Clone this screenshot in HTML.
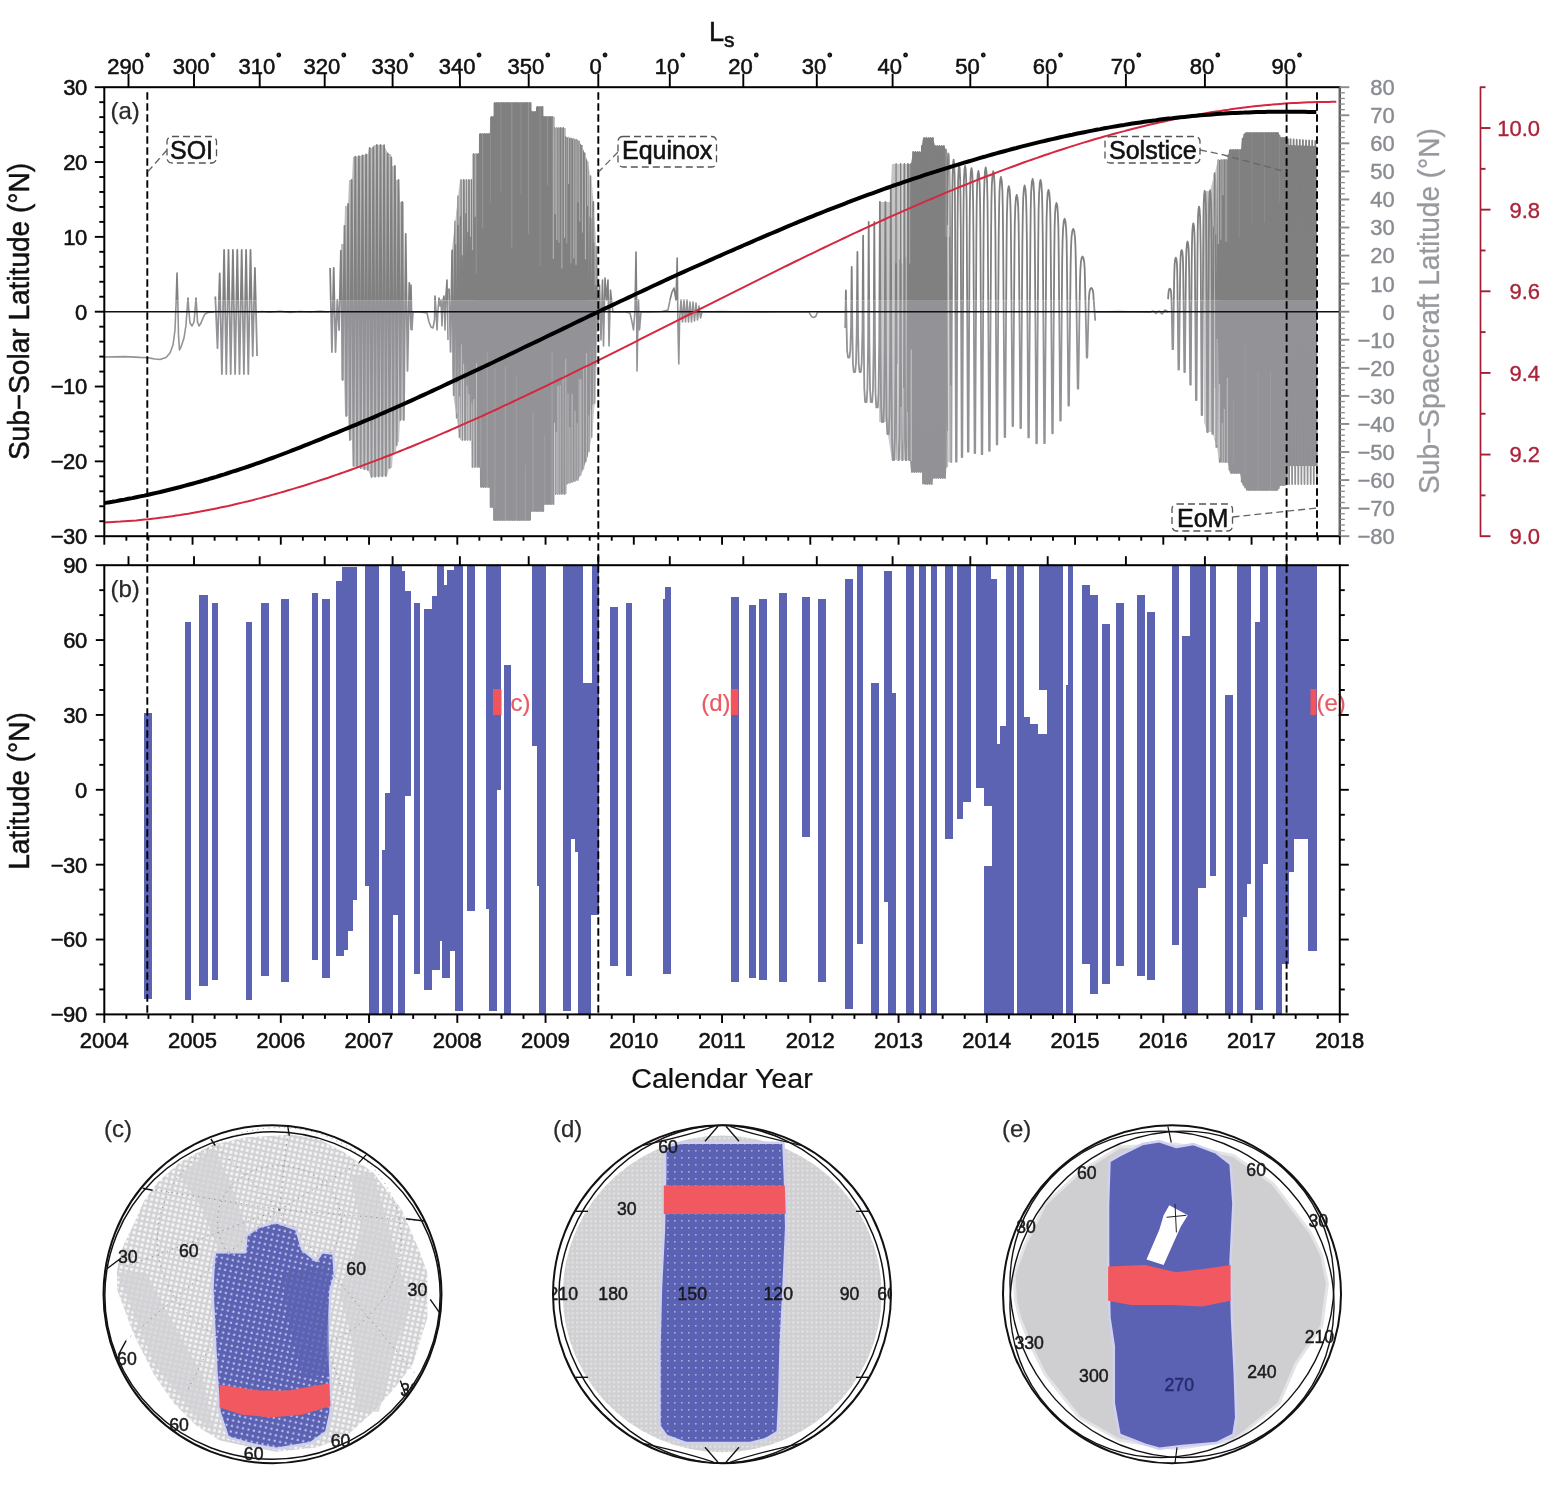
<!DOCTYPE html>
<html><head><meta charset="utf-8"><title>Figure</title>
<style>
html,body{margin:0;padding:0;background:#fff;}
body{width:1545px;height:1500px;overflow:hidden;}
svg{display:block;font-family:'Liberation Sans', Arial, Helvetica, sans-serif;}
</style></head>
<body>
<svg width="1545" height="1500" viewBox="0 0 1545 1500">
<rect x="0" y="0" width="1545" height="1500" fill="#fff"/>
<defs><clipPath id="cu"><rect x="104" y="87" width="1236" height="213.5"/></clipPath><clipPath id="cl"><rect x="104" y="300.5" width="1236" height="236"/></clipPath></defs>
<g clip-path="url(#cu)"><polygon stroke="none" fill="#7e7e7e" points="474.0,154.0 478.9,154.0 479.0,134.0 489.9,134.0 490.0,117.0 493.6,117.0 493.6,103.0 531.0,103.0 531.0,112.0 536.0,112.0 536.0,107.0 543.0,107.0 543.0,117.0 554.5,117.0 554.5,128.0 565.5,128.0 565.5,137.0 578.0,140.0 582.0,146.0 587.0,160.0 588.0,164.8 588.0,456.0 582.0,472.0 578.0,480.0 566.5,484.0 566.5,494.0 554.5,494.0 554.5,504.0 543.5,504.0 543.5,511.0 531.0,511.0 531.0,520.0 494.0,520.0 493.9,507.0 490.0,507.0 489.9,487.0 480.0,487.0 479.9,467.0 474.0,467.0"/>
<polygon stroke="none" fill="#7e7e7e" points="909.0,164.0 911.0,164.0 913.0,152.0 921.0,152.0 923.0,138.0 933.0,138.0 935.0,146.0 944.0,146.0 946.0,149.5 946.0,472.7 945.0,478.0 933.0,478.0 932.0,484.0 923.0,484.0 922.0,472.0 911.0,472.0 910.0,460.0 909.0,460.0"/>
<polygon stroke="none" fill="#7e7e7e" points="1219.0,160.0 1228.0,160.0 1229.0,150.0 1241.0,150.0 1242.0,140.0 1245.0,133.0 1279.0,133.0 1280.0,138.0 1286.0,138.0 1286.3,138.3 1286.3,484.4 1285.0,485.0 1280.0,485.0 1278.0,490.0 1247.0,490.0 1242.0,483.0 1240.0,473.0 1230.0,473.0 1228.0,462.0 1219.0,462.0"/>
<polygon stroke="none" fill="#7e7e7e" points="1286.3,145.0 1287.0,145.0 1316.5,146.0 1316.5,466.0 1287.0,466.0 1286.3,466.0"/>
<polygon stroke="none" fill="#7e7e7e" fill-opacity="0.50" points="341.0,244.0 344.0,244.0 345.0,206.0 348.0,206.0 349.0,180.0 352.0,180.0 353.0,157.0 360.0,156.0 368.0,154.0 369.0,148.0 373.0,148.0 374.0,145.0 384.0,145.0 385.0,147.0 388.0,154.0 391.0,154.0 392.0,166.0 395.0,166.0 396.0,180.0 399.0,180.0 400.0,202.0 404.0,202.0 404.0,420.0 400.0,420.0 399.0,442.0 397.0,442.0 396.0,452.0 393.0,452.0 392.0,468.0 389.0,468.0 387.0,476.0 371.0,477.0 368.0,470.0 367.0,470.0 353.0,466.0 352.0,440.0 349.0,440.0 348.0,416.0 345.0,416.0 344.0,380.0 341.0,380.0"/>
<polygon stroke="none" fill="#7e7e7e" fill-opacity="0.55" points="452.0,252.0 453.0,240.0 460.0,180.0 471.9,180.0 472.0,154.0 474.0,154.0 474.0,467.0 472.0,467.0 471.9,440.0 460.0,440.0 454.0,400.0 452.0,372.0"/>
<polygon stroke="none" fill="#7e7e7e" fill-opacity="0.50" points="588.0,164.8 592.0,184.0 596.0,240.0 597.0,270.0 597.0,360.0 595.0,400.0 592.0,436.0 588.0,456.0"/>
<polygon stroke="none" fill="#7e7e7e" fill-opacity="0.45" points="879.0,202.0 890.0,202.0 892.0,164.0 909.0,164.0 909.0,460.0 892.0,460.0 889.0,442.0 886.0,422.0 879.0,422.0"/>
<polygon stroke="none" fill="#7e7e7e" fill-opacity="0.40" points="946.0,149.5 948.0,153.0 950.0,155.3 950.0,462.0 948.0,462.0 946.0,472.7"/>
<polygon stroke="none" fill="#7e7e7e" fill-opacity="0.45" points="1204.0,191.0 1210.0,191.0 1215.0,172.0 1218.0,160.0 1219.0,160.0 1219.0,462.0 1217.0,448.0 1212.0,432.0 1207.0,432.0 1204.0,422.0"/>
<polyline fill="none" stroke="#808080" stroke-width="1.8" stroke-linejoin="round" points="215.3,296.5 217.5,348.1 219.7,273.5 221.9,374.0 224.1,250.0 226.3,374.0 228.5,250.0 230.7,374.0 232.9,250.0 235.1,374.0 237.3,250.0 239.5,374.0 241.7,250.0 243.9,374.0 246.1,250.0 248.3,374.0 250.5,250.0 252.7,356.0 254.9,268.0 257.1,356.0"/>
<polyline fill="none" stroke="#808080" stroke-width="1.8" stroke-linejoin="round" points="330.1,268.0 331.9,352.0 333.7,268.0 335.5,352.0 337.3,300.0 339.1,330.0 340.9,250.7 342.7,380.0 344.5,225.8 346.3,416.0 348.1,203.9 349.9,440.0 351.7,180.0 353.5,466.1 355.3,156.7 357.1,467.2 358.9,156.2 360.7,468.2 362.5,155.4 364.3,469.2 366.1,154.5 367.9,470.0 369.7,148.0 371.5,477.0 373.3,147.2 375.1,476.7 376.9,145.0 378.7,476.5 380.5,145.0 382.3,476.3 384.1,145.2 385.9,476.1 387.7,153.3 389.5,468.0 391.3,157.4 393.1,452.0 394.9,166.0 396.7,445.2 398.5,180.0 400.3,420.0 402.1,202.0 403.9,420.0 405.7,234.0 407.5,370.8 409.3,282.8 411.1,330.0"/>
<polyline fill="none" stroke="#808080" stroke-width="1.8" stroke-linejoin="round" points="449.0,288.5 450.6,351.8 452.1,250.5 453.7,395.3 455.2,221.4 456.7,417.7 458.1,196.2 459.5,437.0 460.9,180.0 462.3,440.0 463.7,180.0 465.0,440.0 466.3,180.0 467.6,440.0 468.8,180.0 470.1,440.0 471.3,180.0 472.5,467.0 473.6,154.0 474.8,467.0 475.9,154.0 477.0,467.0 478.1,154.0 479.2,467.0 480.2,134.0 481.3,487.0 482.3,134.0 483.3,487.0 484.2,134.0 485.2,487.0 486.1,134.0 487.1,487.0 488.0,134.0 488.9,487.0 489.7,134.0 490.6,507.0 491.5,117.0 492.3,507.0 493.2,117.0 494.0,520.0 494.9,103.0 495.7,520.0 496.6,103.0 497.4,520.0 498.3,103.0 499.1,520.0 500.0,103.0 500.8,520.0 501.7,103.0 502.5,520.0 503.4,103.0 504.2,520.0 505.1,103.0 505.9,520.0 506.8,103.0 507.6,520.0 508.5,103.0 509.3,520.0 510.2,103.0 511.0,520.0 511.9,103.0 512.7,520.0 513.6,103.0 514.4,520.0 515.3,103.0 516.1,520.0 517.0,103.0 517.8,520.0 518.7,103.0 519.5,520.0 520.4,103.0 521.2,520.0 522.1,103.0 522.9,520.0 523.8,103.0 524.6,520.0 525.5,103.0 526.3,520.0 527.2,103.0 528.0,520.0 528.9,103.0 529.7,520.0 530.6,103.0 531.4,511.0 532.3,112.0 533.1,511.0 534.0,112.0 534.8,511.0 535.7,112.0 536.5,511.0 537.4,107.0 538.2,511.0 539.1,107.0 539.9,511.0 540.8,107.0 541.6,511.0 542.5,107.0 543.3,511.0 544.2,117.0 545.0,504.0 545.9,117.0 546.7,504.0 547.6,117.0 548.4,504.0 549.3,117.0 550.1,504.0 551.0,117.0 551.8,504.0 552.7,117.0 553.6,504.0 554.6,128.0 555.6,494.0 556.6,128.0 557.6,494.0 558.7,128.0 559.7,494.0 560.9,128.0 562.0,494.0 563.2,128.0 564.5,494.0 565.7,137.1 567.0,483.8 568.3,137.7 569.6,482.9 571.0,138.3 572.3,482.0 573.6,139.0 575.0,481.0 576.3,139.6 577.7,480.1 579.1,141.6 580.5,475.1 581.9,145.8 583.3,468.7 584.7,153.5 586.1,461.1 587.5,162.4 588.9,451.3 590.4,176.2 591.8,436.9 593.3,201.9 594.7,403.0 596.2,246.7 597.7,331.7"/>
<polyline fill="none" stroke="#808080" stroke-width="1.8" stroke-linejoin="round" points="845.2,327.9 845.9,290.4 846.6,327.9 847.1,350.7 848.0,357.5 849.5,357.5 850.3,350.7 851.0,327.9 851.0,333.0 851.7,267.0 852.4,333.0 852.9,363.0 853.7,372.0 855.2,372.0 856.0,363.0 856.7,333.0 856.7,333.0 857.4,252.0 858.1,333.0 858.7,363.0 859.5,372.0 860.9,372.0 861.7,363.0 862.4,333.0 862.4,343.5 863.1,235.6 863.8,343.5 864.3,388.5 865.1,402.0 866.6,402.0 867.4,388.5 868.1,343.5 868.1,343.5 868.7,222.0 869.4,343.5 870.0,388.5 870.7,402.0 872.2,402.0 873.0,388.5 873.7,343.5 873.7,345.4 874.3,222.0 875.0,345.4 875.5,393.1 876.3,407.4 877.8,407.4 878.5,393.1 879.2,345.4 879.2,350.5 879.9,202.0 880.5,350.5 881.1,405.5 881.8,422.0 883.3,422.0 884.0,405.5 884.7,350.5 884.7,354.7 885.4,202.0 886.0,354.7 886.5,415.7 887.3,434.0 888.7,434.0 889.5,415.7 890.1,354.7 890.1,363.8 890.8,187.0 891.4,363.8 892.0,437.8 892.7,460.0 894.1,460.0 894.9,437.8 895.5,363.8 895.5,363.8 896.1,164.0 896.6,363.8 897.1,437.8 897.7,460.0 898.9,460.0 899.5,437.8 900.1,363.8 900.1,363.8 900.5,164.0 901.0,363.8 901.4,437.8 902.0,460.0 903.0,460.0 903.6,437.8 904.0,363.8 904.0,363.8 904.5,164.0 904.9,363.8 905.2,437.8 905.7,460.0 906.6,460.0 907.1,437.8 907.5,363.8 907.5,363.8 907.9,164.0 908.3,363.8 908.6,437.8 909.0,460.0 909.8,460.0 910.2,437.8 910.6,363.8"/>
<polyline fill="none" stroke="#808080" stroke-width="1.8" stroke-linejoin="round" points="908.7,164.0 909.8,460.0 910.9,164.0 912.0,472.0 913.1,152.0 914.2,472.0 915.3,152.0 916.4,472.0 917.5,152.0 918.6,472.0 919.7,152.0 920.8,472.0 921.9,146.0 923.0,483.5 924.1,138.0 925.2,484.0 926.3,138.0 927.4,484.0 928.5,138.0 929.6,484.0 930.7,138.0 931.8,484.0 932.9,138.0 934.0,478.0 935.1,146.0 936.2,478.0 937.3,146.0 938.4,478.0 939.5,146.0 940.6,478.0 941.7,146.0 942.8,478.0 943.9,146.0 945.0,478.0 946.1,149.6 947.2,467.3"/>
<polyline fill="none" stroke="#808080" stroke-width="1.8" stroke-linejoin="round" points="947.1,224.9 947.3,190.2 947.6,169.9 948.0,157.7 948.5,153.6 949.0,157.7 949.4,169.9 949.7,190.2 949.9,224.9 950.7,462.0 951.3,462.0 952.1,228.2 952.3,194.8 952.6,175.3 953.1,163.5 953.6,159.6 954.1,163.5 954.6,175.3 954.9,194.8 955.1,228.2 956.0,461.7 956.6,461.7 957.5,231.2 957.8,199.1 958.1,180.3 958.6,168.9 959.1,165.1 959.7,168.9 960.2,180.3 960.5,199.1 960.8,231.2 961.7,457.0 962.3,457.0 963.3,231.7 963.6,199.7 963.9,181.0 964.5,169.8 965.1,166.0 965.7,169.8 966.2,181.0 966.6,199.7 966.8,231.7 967.9,451.7 968.5,451.7 969.6,232.8 969.9,201.3 970.3,182.9 970.8,171.8 971.5,168.1 972.2,171.8 972.7,182.9 973.1,201.3 973.4,232.8 974.6,453.1 975.2,453.1 976.4,234.3 976.7,203.4 977.1,185.3 977.7,174.4 978.4,170.8 979.1,174.4 979.7,185.3 980.1,203.4 980.4,234.3 981.7,454.2 982.3,454.2 983.6,232.4 983.9,200.8 984.4,182.3 985.0,171.1 985.7,167.4 986.4,171.1 987.1,182.3 987.5,200.8 987.8,232.4 989.1,450.8 989.7,450.8 991.1,234.5 991.4,203.7 991.8,185.7 992.5,174.8 993.2,171.2 994.0,174.8 994.6,185.7 995.0,203.7 995.4,234.5 996.7,444.4 997.3,444.4 998.7,237.7 999.1,208.1 999.5,190.8 1000.2,180.4 1000.9,176.9 1001.7,180.4 1002.4,190.8 1002.8,208.1 1003.1,237.7 1004.6,437.1 1005.2,437.1 1006.6,242.8 1006.9,215.2 1007.4,199.1 1008.0,189.4 1008.8,186.2 1009.6,189.4 1010.2,199.1 1010.7,215.2 1011.0,242.8 1012.5,426.0 1013.1,426.0 1014.5,247.6 1014.8,221.9 1015.3,206.9 1015.9,197.9 1016.7,194.9 1017.5,197.9 1018.2,206.9 1018.6,221.9 1018.9,247.6 1020.4,428.1 1021.0,428.1 1022.4,242.3 1022.8,214.6 1023.2,198.4 1023.9,188.6 1024.6,185.4 1025.4,188.6 1026.1,198.4 1026.5,214.6 1026.9,242.3 1028.3,437.4 1028.9,437.4 1030.4,238.9 1030.7,209.8 1031.1,192.7 1031.8,182.5 1032.6,179.0 1033.4,182.5 1034.0,192.7 1034.5,209.8 1034.8,238.9 1036.3,443.3 1036.9,443.3 1038.3,239.3 1038.6,210.4 1039.1,193.5 1039.8,183.3 1040.5,179.9 1041.3,183.3 1042.0,193.5 1042.4,210.4 1042.8,239.3 1044.2,443.2 1044.8,443.2 1046.3,244.8 1046.6,218.0 1047.1,202.4 1047.7,192.9 1048.5,189.8 1049.3,192.9 1050.0,202.4 1050.4,218.0 1050.7,244.8 1052.2,433.3 1052.8,433.3 1054.3,252.0 1054.6,228.2 1055.0,214.2 1055.7,205.8 1056.5,203.0 1057.3,205.8 1057.9,214.2 1058.4,228.2 1058.7,252.0 1060.2,420.5 1060.8,420.5 1062.2,260.7 1062.6,240.2 1063.1,228.3 1063.8,221.1 1064.6,218.7 1065.4,221.1 1066.1,228.3 1066.6,240.2 1066.9,260.7 1068.4,405.5 1069.0,405.5 1070.6,266.3 1071.0,248.1 1071.5,237.5 1072.3,231.1 1073.2,228.9 1074.2,231.1 1075.0,237.5 1075.5,248.1 1075.9,266.3 1077.7,388.7 1078.3,388.7 1080.0,281.4 1080.4,269.3 1080.9,262.2 1081.7,257.9 1082.5,256.5 1083.4,257.9 1084.2,262.2 1084.7,269.3 1085.0,281.4 1086.7,357.5 1087.3,357.5 1088.9,298.8 1089.3,293.5 1089.8,290.4 1090.5,288.6 1091.3,287.9 1092.1,288.6 1092.8,290.4 1093.3,293.5 1093.6,298.8 1095.2,320.0 1095.8,320.0"/>
<polyline fill="none" stroke="#808080" stroke-width="1.8" stroke-linejoin="round" points="1168.1,299.1 1168.4,294.0 1168.7,291.0 1169.2,289.2 1169.8,288.6 1170.4,289.2 1170.9,291.0 1171.2,294.0 1171.5,299.1 1172.5,349.2 1173.1,349.2 1174.1,282.1 1174.4,270.3 1174.7,263.3 1175.2,259.1 1175.8,257.7 1176.4,259.1 1176.9,263.3 1177.2,270.3 1177.4,282.1 1178.4,369.5 1179.0,369.5 1180.1,277.9 1180.3,264.3 1180.6,256.4 1181.1,251.6 1181.7,250.0 1182.3,251.6 1182.8,256.4 1183.1,264.3 1183.3,277.9 1184.3,372.0 1184.9,372.0 1185.9,273.2 1186.2,257.8 1186.5,248.8 1187.0,243.3 1187.5,241.5 1188.1,243.3 1188.6,248.8 1188.9,257.8 1189.2,273.2 1190.2,384.7 1190.8,384.7 1191.7,263.2 1192.0,243.8 1192.3,232.5 1192.8,225.6 1193.3,223.3 1193.9,225.6 1194.4,232.5 1194.7,243.8 1194.9,263.2 1195.9,400.0 1196.5,400.0 1197.5,254.0 1197.7,231.0 1198.0,217.5 1198.5,209.4 1199.1,206.6 1199.6,209.4 1200.1,217.5 1200.4,231.0 1200.7,254.0 1201.6,415.0 1202.2,415.0 1203.2,245.4 1203.4,219.0 1203.7,203.5 1204.2,194.1 1204.7,191.0 1205.3,194.1 1205.8,203.5 1206.1,219.0 1206.3,245.4 1207.2,432.0 1207.8,432.0 1208.8,245.2 1209.0,218.6 1209.2,203.0 1209.6,193.7 1210.1,190.5 1210.6,193.7 1211.0,203.0 1211.3,218.6 1211.5,245.2 1212.3,433.8 1212.9,433.8 1213.6,235.6 1213.8,205.2 1214.0,187.5 1214.3,176.8 1214.7,173.1 1215.1,176.8 1215.4,187.5 1215.6,205.2 1215.8,235.6 1216.3,446.9 1216.9,446.9 1218.3,160.0 1219.8,462.0 1221.1,160.0 1222.2,462.0 1223.2,160.0 1224.1,462.0 1224.9,160.0 1225.8,462.0 1226.7,160.0 1227.6,462.0 1228.5,154.8 1229.4,469.8 1230.3,150.0 1231.2,473.0 1232.1,150.0 1233.0,473.0 1233.8,150.0 1234.7,473.0 1235.6,150.0 1236.5,473.0 1237.4,150.0 1238.2,473.0 1239.1,150.0 1240.0,473.0 1240.9,150.0 1241.7,481.7 1242.6,138.6 1243.5,485.1 1244.3,134.5 1245.2,487.5 1246.1,133.0 1246.9,489.9 1247.8,133.0 1248.7,490.0 1249.5,133.0 1250.4,490.0 1251.2,133.0 1252.1,490.0 1252.9,133.0 1253.8,490.0 1254.6,133.0 1255.5,490.0 1256.3,133.0 1257.2,490.0 1258.0,133.0 1258.9,490.0 1259.7,133.0 1260.6,490.0 1261.4,133.0 1262.2,490.0 1263.1,133.0 1263.9,490.0 1264.8,133.0 1265.6,490.0 1266.4,133.0 1267.2,490.0 1268.1,133.0 1268.9,490.0 1269.7,133.0 1270.6,490.0 1271.4,133.0 1272.2,490.0 1273.0,133.0 1273.9,490.0 1274.7,133.0 1275.5,490.0 1276.3,133.0 1277.1,490.0 1277.9,133.0 1278.8,488.1 1279.6,135.8 1280.4,485.0 1281.2,138.0 1282.0,485.0 1282.8,138.0 1283.6,485.0 1284.4,138.0 1285.2,484.9 1286.0,138.0 1286.8,484.1 1287.9,139.1 1289.1,484.0 1290.5,139.2 1292.1,484.0 1293.6,139.4 1295.2,484.0 1296.7,139.7 1298.3,484.0 1299.8,139.9 1301.4,484.0 1302.9,140.1 1304.5,484.0 1306.0,140.3 1307.6,484.0 1309.1,140.5 1310.7,484.0 1312.2,140.7 1313.8,484.0 1315.3,140.9 1316.9,484.0"/>
<polyline fill="none" stroke="#808080" stroke-width="1.6" stroke-linejoin="round" points="104.3,357.0 125.0,356.6 140.0,357.4 147.0,357.6 155.0,359.0 160.0,359.5 166.0,357.5 170.0,353.0 173.0,345.0 175.0,330.0 176.2,300.0 177.0,273.0 177.8,300.0 178.5,335.0 179.5,350.0 181.0,347.0 184.0,338.0 186.0,325.0 187.4,305.0 188.0,298.0 188.8,310.0 190.0,323.0 192.0,326.0 194.0,322.0 195.2,308.0 196.0,298.0 196.8,310.0 197.5,322.0 199.0,326.0 201.0,323.0 203.0,318.0 205.0,314.0 208.0,312.5 214.0,312.0"/>
<polyline fill="none" stroke="#808080" stroke-width="1.6" stroke-linejoin="round" points="254.0,312.5 262.0,311.5 270.0,312.3 280.0,311.2 290.0,312.4 300.0,311.5 310.0,312.0 320.0,311.4 329.0,312.0"/>
<polyline fill="none" stroke="#808080" stroke-width="1.6" stroke-linejoin="round" points="410.0,300.0 411.0,285.0 412.0,330.0 413.0,312.0 420.0,312.0 427.0,313.0 429.0,322.0 431.0,327.0 433.0,328.0 434.5,320.0 435.0,296.0 436.0,310.0 437.0,330.0 438.0,310.0 439.0,298.0 440.0,306.0 441.0,300.0 442.0,326.0 443.0,300.0 444.0,296.0 445.0,330.0 446.0,295.0 447.0,280.0 448.0,340.0"/>
<polyline fill="none" stroke="#808080" stroke-width="1.6" stroke-linejoin="round" points="598.0,330.0 599.5,285.0 601.0,340.0 602.5,280.0 603.5,346.0 605.0,278.0 606.5,300.0 608.0,280.0 609.0,346.0 610.5,290.0 612.0,305.0 613.0,312.0 625.0,312.0 630.0,313.0 632.0,322.0 633.5,330.0 635.0,310.0 636.0,252.0 636.6,300.0 637.0,371.0 637.8,330.0 638.5,300.0 639.5,330.0 641.0,312.0 650.0,312.0 662.0,311.5 668.0,310.0 670.0,300.0 672.0,292.0 674.0,288.0 676.0,300.0 677.2,258.0 678.0,330.0 678.8,364.0 679.6,320.0 681.0,300.0 682.5,322.0 684.0,300.0 685.5,322.0 687.0,300.0 688.5,322.0 690.0,302.0 691.5,322.0 693.0,302.0 694.5,321.0 696.0,303.0 697.5,320.0 699.0,306.0 700.5,318.0 702.0,312.0"/>
<polyline fill="none" stroke="#808080" stroke-width="1.6" stroke-linejoin="round" points="702.0,312.0 720.0,311.6 760.0,312.2 800.0,311.7 809.0,312.0 810.5,315.0 812.0,317.0 814.0,317.5 816.0,316.0 817.5,312.0 845.0,312.0"/>
<polyline fill="none" stroke="#808080" stroke-width="1.6" stroke-linejoin="round" points="1095.0,312.0 1120.0,311.6 1150.0,312.2 1153.0,311.0 1156.0,313.5 1159.0,311.0 1162.0,314.0 1165.0,310.0 1168.0,312.0"/><line x1="455.8" y1="214.6" x2="455.8" y2="244.4" stroke="#fff" stroke-opacity="0.47" stroke-width="1"/><line x1="457.1" y1="413.3" x2="457.1" y2="382.9" stroke="#fff" stroke-opacity="0.45" stroke-width="1"/><line x1="458.2" y1="194.2" x2="458.2" y2="225.0" stroke="#fff" stroke-opacity="0.44" stroke-width="1"/><line x1="459.5" y1="429.2" x2="459.5" y2="396.5" stroke="#fff" stroke-opacity="0.43" stroke-width="1"/><line x1="460.2" y1="179.0" x2="460.2" y2="216.5" stroke="#fff" stroke-opacity="0.42" stroke-width="1"/><line x1="461.5" y1="441.0" x2="461.5" y2="344.5" stroke="#fff" stroke-opacity="0.36" stroke-width="1"/><line x1="462.3" y1="179.0" x2="462.3" y2="255.2" stroke="#fff" stroke-opacity="0.54" stroke-width="1"/><line x1="463.6" y1="441.0" x2="463.6" y2="363.7" stroke="#fff" stroke-opacity="0.42" stroke-width="1"/><line x1="465.7" y1="179.0" x2="465.7" y2="213.4" stroke="#fff" stroke-opacity="0.52" stroke-width="1"/><line x1="467.0" y1="441.0" x2="467.0" y2="385.8" stroke="#fff" stroke-opacity="0.36" stroke-width="1"/><line x1="467.7" y1="179.0" x2="467.7" y2="232.2" stroke="#fff" stroke-opacity="0.51" stroke-width="1"/><line x1="469.0" y1="441.0" x2="469.0" y2="394.1" stroke="#fff" stroke-opacity="0.46" stroke-width="1"/><line x1="470.5" y1="179.0" x2="470.5" y2="236.8" stroke="#fff" stroke-opacity="0.45" stroke-width="1"/><line x1="471.8" y1="441.0" x2="471.8" y2="403.2" stroke="#fff" stroke-opacity="0.34" stroke-width="1"/><line x1="472.6" y1="153.0" x2="472.6" y2="250.1" stroke="#fff" stroke-opacity="0.42" stroke-width="1"/><line x1="473.9" y1="468.0" x2="473.9" y2="399.0" stroke="#fff" stroke-opacity="0.46" stroke-width="1"/><line x1="475.2" y1="153.0" x2="475.2" y2="216.8" stroke="#fff" stroke-opacity="0.50" stroke-width="1"/><line x1="476.5" y1="468.0" x2="476.5" y2="363.2" stroke="#fff" stroke-opacity="0.38" stroke-width="1"/><line x1="553.3" y1="116.0" x2="553.3" y2="258.8" stroke="#fff" stroke-opacity="0.45" stroke-width="1"/><line x1="554.5" y1="505.0" x2="554.5" y2="422.8" stroke="#fff" stroke-opacity="0.50" stroke-width="1"/><line x1="555.1" y1="127.0" x2="555.1" y2="214.2" stroke="#fff" stroke-opacity="0.45" stroke-width="1"/><line x1="556.3" y1="495.0" x2="556.3" y2="431.9" stroke="#fff" stroke-opacity="0.40" stroke-width="1"/><line x1="556.8" y1="127.0" x2="556.8" y2="240.0" stroke="#fff" stroke-opacity="0.45" stroke-width="1"/><line x1="558.0" y1="495.0" x2="558.0" y2="385.9" stroke="#fff" stroke-opacity="0.48" stroke-width="1"/><line x1="559.0" y1="127.0" x2="559.0" y2="242.8" stroke="#fff" stroke-opacity="0.42" stroke-width="1"/><line x1="560.2" y1="495.0" x2="560.2" y2="385.2" stroke="#fff" stroke-opacity="0.39" stroke-width="1"/><line x1="561.9" y1="127.0" x2="561.9" y2="268.5" stroke="#fff" stroke-opacity="0.39" stroke-width="1"/><line x1="563.1" y1="495.0" x2="563.1" y2="376.0" stroke="#fff" stroke-opacity="0.31" stroke-width="1"/><line x1="564.6" y1="127.0" x2="564.6" y2="237.8" stroke="#fff" stroke-opacity="0.50" stroke-width="1"/><line x1="565.8" y1="495.0" x2="565.8" y2="358.7" stroke="#fff" stroke-opacity="0.36" stroke-width="1"/><line x1="566.8" y1="136.3" x2="566.8" y2="243.3" stroke="#fff" stroke-opacity="0.30" stroke-width="1"/><line x1="568.0" y1="484.9" x2="568.0" y2="393.3" stroke="#fff" stroke-opacity="0.33" stroke-width="1"/><line x1="568.6" y1="136.8" x2="568.6" y2="184.1" stroke="#fff" stroke-opacity="0.45" stroke-width="1"/><line x1="569.8" y1="484.3" x2="569.8" y2="427.2" stroke="#fff" stroke-opacity="0.35" stroke-width="1"/><line x1="570.9" y1="137.3" x2="570.9" y2="263.3" stroke="#fff" stroke-opacity="0.32" stroke-width="1"/><line x1="572.1" y1="483.5" x2="572.1" y2="393.9" stroke="#fff" stroke-opacity="0.41" stroke-width="1"/><line x1="573.8" y1="138.0" x2="573.8" y2="258.4" stroke="#fff" stroke-opacity="0.47" stroke-width="1"/><line x1="575.0" y1="482.4" x2="575.0" y2="410.8" stroke="#fff" stroke-opacity="0.38" stroke-width="1"/><line x1="576.0" y1="138.5" x2="576.0" y2="264.8" stroke="#fff" stroke-opacity="0.49" stroke-width="1"/><line x1="577.2" y1="481.7" x2="577.2" y2="423.2" stroke="#fff" stroke-opacity="0.34" stroke-width="1"/><line x1="578.0" y1="139.1" x2="578.0" y2="202.4" stroke="#fff" stroke-opacity="0.40" stroke-width="1"/><line x1="579.2" y1="480.9" x2="579.2" y2="378.6" stroke="#fff" stroke-opacity="0.35" stroke-width="1"/><line x1="579.7" y1="141.6" x2="579.7" y2="221.5" stroke="#fff" stroke-opacity="0.37" stroke-width="1"/><line x1="580.9" y1="477.5" x2="580.9" y2="379.5" stroke="#fff" stroke-opacity="0.49" stroke-width="1"/><line x1="582.4" y1="146.1" x2="582.4" y2="232.6" stroke="#fff" stroke-opacity="0.42" stroke-width="1"/><line x1="583.6" y1="471.9" x2="583.6" y2="366.7" stroke="#fff" stroke-opacity="0.31" stroke-width="1"/><line x1="585.4" y1="154.5" x2="585.4" y2="259.2" stroke="#fff" stroke-opacity="0.47" stroke-width="1"/><line x1="586.6" y1="464.0" x2="586.6" y2="353.0" stroke="#fff" stroke-opacity="0.38" stroke-width="1"/><line x1="587.6" y1="162.1" x2="587.6" y2="205.8" stroke="#fff" stroke-opacity="0.43" stroke-width="1"/><line x1="588.8" y1="458.0" x2="588.8" y2="415.3" stroke="#fff" stroke-opacity="0.31" stroke-width="1"/><line x1="589.6" y1="171.6" x2="589.6" y2="216.8" stroke="#fff" stroke-opacity="0.37" stroke-width="1"/><line x1="590.8" y1="448.9" x2="590.8" y2="409.6" stroke="#fff" stroke-opacity="0.30" stroke-width="1"/><line x1="591.5" y1="180.7" x2="591.5" y2="218.5" stroke="#fff" stroke-opacity="0.37" stroke-width="1"/><line x1="592.7" y1="439.4" x2="592.7" y2="404.9" stroke="#fff" stroke-opacity="0.47" stroke-width="1"/><line x1="594.1" y1="212.1" x2="594.1" y2="242.6" stroke="#fff" stroke-opacity="0.35" stroke-width="1"/><line x1="595.3" y1="412.0" x2="595.3" y2="365.6" stroke="#fff" stroke-opacity="0.37" stroke-width="1"/><line x1="595.9" y1="238.1" x2="595.9" y2="285.4" stroke="#fff" stroke-opacity="0.50" stroke-width="1"/><line x1="597.1" y1="382.2" x2="597.1" y2="344.6" stroke="#fff" stroke-opacity="0.40" stroke-width="1"/><line x1="597.7" y1="291.2" x2="597.7" y2="294.7" stroke="#fff" stroke-opacity="0.37" stroke-width="1"/><line x1="598.9" y1="331.3" x2="598.9" y2="322.8" stroke="#fff" stroke-opacity="0.47" stroke-width="1"/><line x1="476.2" y1="153.0" x2="476.2" y2="273.8" stroke="#fff" stroke-opacity="0.15" stroke-width="1"/><line x1="480.7" y1="468.0" x2="480.7" y2="414.6" stroke="#fff" stroke-opacity="0.15" stroke-width="1"/><line x1="482.7" y1="133.0" x2="482.7" y2="228.1" stroke="#fff" stroke-opacity="0.18" stroke-width="1"/><line x1="487.2" y1="488.0" x2="487.2" y2="352.6" stroke="#fff" stroke-opacity="0.16" stroke-width="1"/><line x1="490.4" y1="116.0" x2="490.4" y2="203.0" stroke="#fff" stroke-opacity="0.12" stroke-width="1"/><line x1="494.9" y1="508.0" x2="494.9" y2="367.9" stroke="#fff" stroke-opacity="0.15" stroke-width="1"/><line x1="500.9" y1="102.0" x2="500.9" y2="191.2" stroke="#fff" stroke-opacity="0.12" stroke-width="1"/><line x1="505.4" y1="521.0" x2="505.4" y2="366.7" stroke="#fff" stroke-opacity="0.18" stroke-width="1"/><line x1="511.8" y1="102.0" x2="511.8" y2="247.5" stroke="#fff" stroke-opacity="0.17" stroke-width="1"/><line x1="516.3" y1="521.0" x2="516.3" y2="375.7" stroke="#fff" stroke-opacity="0.12" stroke-width="1"/><line x1="520.9" y1="102.0" x2="520.9" y2="194.3" stroke="#fff" stroke-opacity="0.11" stroke-width="1"/><line x1="525.4" y1="521.0" x2="525.4" y2="464.5" stroke="#fff" stroke-opacity="0.13" stroke-width="1"/><line x1="528.6" y1="102.0" x2="528.6" y2="234.1" stroke="#fff" stroke-opacity="0.18" stroke-width="1"/><line x1="533.1" y1="521.0" x2="533.1" y2="412.2" stroke="#fff" stroke-opacity="0.18" stroke-width="1"/><line x1="540.2" y1="106.0" x2="540.2" y2="265.8" stroke="#fff" stroke-opacity="0.13" stroke-width="1"/><line x1="544.7" y1="512.0" x2="544.7" y2="434.9" stroke="#fff" stroke-opacity="0.12" stroke-width="1"/><line x1="547.6" y1="116.0" x2="547.6" y2="185.2" stroke="#fff" stroke-opacity="0.15" stroke-width="1"/><line x1="552.1" y1="505.0" x2="552.1" y2="352.3" stroke="#fff" stroke-opacity="0.17" stroke-width="1"/><line x1="896.0" y1="163.0" x2="896.0" y2="263.3" stroke="#fff" stroke-opacity="0.32" stroke-width="1"/><line x1="897.5" y1="461.0" x2="897.5" y2="364.3" stroke="#fff" stroke-opacity="0.48" stroke-width="1"/><line x1="899.5" y1="163.0" x2="899.5" y2="259.2" stroke="#fff" stroke-opacity="0.40" stroke-width="1"/><line x1="901.0" y1="461.0" x2="901.0" y2="407.1" stroke="#fff" stroke-opacity="0.46" stroke-width="1"/><line x1="902.2" y1="163.0" x2="902.2" y2="263.3" stroke="#fff" stroke-opacity="0.49" stroke-width="1"/><line x1="903.7" y1="461.0" x2="903.7" y2="387.8" stroke="#fff" stroke-opacity="0.38" stroke-width="1"/><line x1="906.0" y1="163.0" x2="906.0" y2="257.1" stroke="#fff" stroke-opacity="0.33" stroke-width="1"/><line x1="907.5" y1="461.0" x2="907.5" y2="411.7" stroke="#fff" stroke-opacity="0.33" stroke-width="1"/><line x1="909.7" y1="163.0" x2="909.7" y2="263.8" stroke="#fff" stroke-opacity="0.33" stroke-width="1"/><line x1="911.2" y1="461.0" x2="911.2" y2="349.6" stroke="#fff" stroke-opacity="0.50" stroke-width="1"/><line x1="946.1" y1="148.6" x2="946.1" y2="236.7" stroke="#fff" stroke-opacity="0.26" stroke-width="1"/><line x1="947.6" y1="473.4" x2="947.6" y2="430.9" stroke="#fff" stroke-opacity="0.40" stroke-width="1"/><line x1="949.3" y1="153.5" x2="949.3" y2="236.9" stroke="#fff" stroke-opacity="0.39" stroke-width="1"/><line x1="950.8" y1="463.0" x2="950.8" y2="385.5" stroke="#fff" stroke-opacity="0.38" stroke-width="1"/><line x1="1213.5" y1="176.5" x2="1213.5" y2="226.6" stroke="#fff" stroke-opacity="0.36" stroke-width="1"/><line x1="1214.8" y1="438.0" x2="1214.8" y2="387.7" stroke="#fff" stroke-opacity="0.42" stroke-width="1"/><line x1="1215.8" y1="167.9" x2="1215.8" y2="234.6" stroke="#fff" stroke-opacity="0.33" stroke-width="1"/><line x1="1217.1" y1="445.1" x2="1217.1" y2="338.9" stroke="#fff" stroke-opacity="0.37" stroke-width="1"/><line x1="1218.3" y1="159.0" x2="1218.3" y2="244.0" stroke="#fff" stroke-opacity="0.48" stroke-width="1"/><line x1="1219.6" y1="458.2" x2="1219.6" y2="384.2" stroke="#fff" stroke-opacity="0.48" stroke-width="1"/><line x1="1220.9" y1="159.0" x2="1220.9" y2="239.7" stroke="#fff" stroke-opacity="0.40" stroke-width="1"/><line x1="1222.2" y1="463.0" x2="1222.2" y2="422.8" stroke="#fff" stroke-opacity="0.39" stroke-width="1"/><line x1="1223.0" y1="159.0" x2="1223.0" y2="195.3" stroke="#fff" stroke-opacity="0.46" stroke-width="1"/><line x1="1224.3" y1="463.0" x2="1224.3" y2="409.0" stroke="#fff" stroke-opacity="0.39" stroke-width="1"/><line x1="1226.0" y1="159.0" x2="1226.0" y2="241.7" stroke="#fff" stroke-opacity="0.37" stroke-width="1"/><line x1="1227.3" y1="463.0" x2="1227.3" y2="377.8" stroke="#fff" stroke-opacity="0.41" stroke-width="1"/><line x1="1227.3" y1="159.0" x2="1227.3" y2="242.1" stroke="#fff" stroke-opacity="0.07" stroke-width="1"/><line x1="1233.3" y1="463.0" x2="1233.3" y2="399.6" stroke="#fff" stroke-opacity="0.09" stroke-width="1"/><line x1="1239.3" y1="149.0" x2="1239.3" y2="238.1" stroke="#fff" stroke-opacity="0.09" stroke-width="1"/><line x1="1245.3" y1="474.0" x2="1245.3" y2="344.6" stroke="#fff" stroke-opacity="0.08" stroke-width="1"/><line x1="1252.1" y1="132.0" x2="1252.1" y2="225.4" stroke="#fff" stroke-opacity="0.08" stroke-width="1"/><line x1="1258.1" y1="491.0" x2="1258.1" y2="371.5" stroke="#fff" stroke-opacity="0.08" stroke-width="1"/><line x1="1264.4" y1="132.0" x2="1264.4" y2="222.6" stroke="#fff" stroke-opacity="0.10" stroke-width="1"/><line x1="1270.4" y1="491.0" x2="1270.4" y2="370.8" stroke="#fff" stroke-opacity="0.10" stroke-width="1"/><line x1="1279.6" y1="134.8" x2="1279.6" y2="202.4" stroke="#fff" stroke-opacity="0.08" stroke-width="1"/><line x1="1285.6" y1="487.1" x2="1285.6" y2="344.0" stroke="#fff" stroke-opacity="0.09" stroke-width="1"/></g>
<g clip-path="url(#cl)"><polygon stroke="none" fill="#8f8f93" points="474.0,154.0 478.9,154.0 479.0,134.0 489.9,134.0 490.0,117.0 493.6,117.0 493.6,103.0 531.0,103.0 531.0,112.0 536.0,112.0 536.0,107.0 543.0,107.0 543.0,117.0 554.5,117.0 554.5,128.0 565.5,128.0 565.5,137.0 578.0,140.0 582.0,146.0 587.0,160.0 588.0,164.8 588.0,456.0 582.0,472.0 578.0,480.0 566.5,484.0 566.5,494.0 554.5,494.0 554.5,504.0 543.5,504.0 543.5,511.0 531.0,511.0 531.0,520.0 494.0,520.0 493.9,507.0 490.0,507.0 489.9,487.0 480.0,487.0 479.9,467.0 474.0,467.0"/>
<polygon stroke="none" fill="#8f8f93" points="909.0,164.0 911.0,164.0 913.0,152.0 921.0,152.0 923.0,138.0 933.0,138.0 935.0,146.0 944.0,146.0 946.0,149.5 946.0,472.7 945.0,478.0 933.0,478.0 932.0,484.0 923.0,484.0 922.0,472.0 911.0,472.0 910.0,460.0 909.0,460.0"/>
<polygon stroke="none" fill="#8f8f93" points="1219.0,160.0 1228.0,160.0 1229.0,150.0 1241.0,150.0 1242.0,140.0 1245.0,133.0 1279.0,133.0 1280.0,138.0 1286.0,138.0 1286.3,138.3 1286.3,484.4 1285.0,485.0 1280.0,485.0 1278.0,490.0 1247.0,490.0 1242.0,483.0 1240.0,473.0 1230.0,473.0 1228.0,462.0 1219.0,462.0"/>
<polygon stroke="none" fill="#8f8f93" points="1286.3,145.0 1287.0,145.0 1316.5,146.0 1316.5,466.0 1287.0,466.0 1286.3,466.0"/>
<polygon stroke="none" fill="#8f8f93" fill-opacity="0.50" points="341.0,244.0 344.0,244.0 345.0,206.0 348.0,206.0 349.0,180.0 352.0,180.0 353.0,157.0 360.0,156.0 368.0,154.0 369.0,148.0 373.0,148.0 374.0,145.0 384.0,145.0 385.0,147.0 388.0,154.0 391.0,154.0 392.0,166.0 395.0,166.0 396.0,180.0 399.0,180.0 400.0,202.0 404.0,202.0 404.0,420.0 400.0,420.0 399.0,442.0 397.0,442.0 396.0,452.0 393.0,452.0 392.0,468.0 389.0,468.0 387.0,476.0 371.0,477.0 368.0,470.0 367.0,470.0 353.0,466.0 352.0,440.0 349.0,440.0 348.0,416.0 345.0,416.0 344.0,380.0 341.0,380.0"/>
<polygon stroke="none" fill="#8f8f93" fill-opacity="0.55" points="452.0,252.0 453.0,240.0 460.0,180.0 471.9,180.0 472.0,154.0 474.0,154.0 474.0,467.0 472.0,467.0 471.9,440.0 460.0,440.0 454.0,400.0 452.0,372.0"/>
<polygon stroke="none" fill="#8f8f93" fill-opacity="0.50" points="588.0,164.8 592.0,184.0 596.0,240.0 597.0,270.0 597.0,360.0 595.0,400.0 592.0,436.0 588.0,456.0"/>
<polygon stroke="none" fill="#8f8f93" fill-opacity="0.45" points="879.0,202.0 890.0,202.0 892.0,164.0 909.0,164.0 909.0,460.0 892.0,460.0 889.0,442.0 886.0,422.0 879.0,422.0"/>
<polygon stroke="none" fill="#8f8f93" fill-opacity="0.40" points="946.0,149.5 948.0,153.0 950.0,155.3 950.0,462.0 948.0,462.0 946.0,472.7"/>
<polygon stroke="none" fill="#8f8f93" fill-opacity="0.45" points="1204.0,191.0 1210.0,191.0 1215.0,172.0 1218.0,160.0 1219.0,160.0 1219.0,462.0 1217.0,448.0 1212.0,432.0 1207.0,432.0 1204.0,422.0"/>
<polyline fill="none" stroke="#939397" stroke-width="1.8" stroke-linejoin="round" points="215.3,296.5 217.5,348.1 219.7,273.5 221.9,374.0 224.1,250.0 226.3,374.0 228.5,250.0 230.7,374.0 232.9,250.0 235.1,374.0 237.3,250.0 239.5,374.0 241.7,250.0 243.9,374.0 246.1,250.0 248.3,374.0 250.5,250.0 252.7,356.0 254.9,268.0 257.1,356.0"/>
<polyline fill="none" stroke="#939397" stroke-width="1.8" stroke-linejoin="round" points="330.1,268.0 331.9,352.0 333.7,268.0 335.5,352.0 337.3,300.0 339.1,330.0 340.9,250.7 342.7,380.0 344.5,225.8 346.3,416.0 348.1,203.9 349.9,440.0 351.7,180.0 353.5,466.1 355.3,156.7 357.1,467.2 358.9,156.2 360.7,468.2 362.5,155.4 364.3,469.2 366.1,154.5 367.9,470.0 369.7,148.0 371.5,477.0 373.3,147.2 375.1,476.7 376.9,145.0 378.7,476.5 380.5,145.0 382.3,476.3 384.1,145.2 385.9,476.1 387.7,153.3 389.5,468.0 391.3,157.4 393.1,452.0 394.9,166.0 396.7,445.2 398.5,180.0 400.3,420.0 402.1,202.0 403.9,420.0 405.7,234.0 407.5,370.8 409.3,282.8 411.1,330.0"/>
<polyline fill="none" stroke="#939397" stroke-width="1.8" stroke-linejoin="round" points="449.0,288.5 450.6,351.8 452.1,250.5 453.7,395.3 455.2,221.4 456.7,417.7 458.1,196.2 459.5,437.0 460.9,180.0 462.3,440.0 463.7,180.0 465.0,440.0 466.3,180.0 467.6,440.0 468.8,180.0 470.1,440.0 471.3,180.0 472.5,467.0 473.6,154.0 474.8,467.0 475.9,154.0 477.0,467.0 478.1,154.0 479.2,467.0 480.2,134.0 481.3,487.0 482.3,134.0 483.3,487.0 484.2,134.0 485.2,487.0 486.1,134.0 487.1,487.0 488.0,134.0 488.9,487.0 489.7,134.0 490.6,507.0 491.5,117.0 492.3,507.0 493.2,117.0 494.0,520.0 494.9,103.0 495.7,520.0 496.6,103.0 497.4,520.0 498.3,103.0 499.1,520.0 500.0,103.0 500.8,520.0 501.7,103.0 502.5,520.0 503.4,103.0 504.2,520.0 505.1,103.0 505.9,520.0 506.8,103.0 507.6,520.0 508.5,103.0 509.3,520.0 510.2,103.0 511.0,520.0 511.9,103.0 512.7,520.0 513.6,103.0 514.4,520.0 515.3,103.0 516.1,520.0 517.0,103.0 517.8,520.0 518.7,103.0 519.5,520.0 520.4,103.0 521.2,520.0 522.1,103.0 522.9,520.0 523.8,103.0 524.6,520.0 525.5,103.0 526.3,520.0 527.2,103.0 528.0,520.0 528.9,103.0 529.7,520.0 530.6,103.0 531.4,511.0 532.3,112.0 533.1,511.0 534.0,112.0 534.8,511.0 535.7,112.0 536.5,511.0 537.4,107.0 538.2,511.0 539.1,107.0 539.9,511.0 540.8,107.0 541.6,511.0 542.5,107.0 543.3,511.0 544.2,117.0 545.0,504.0 545.9,117.0 546.7,504.0 547.6,117.0 548.4,504.0 549.3,117.0 550.1,504.0 551.0,117.0 551.8,504.0 552.7,117.0 553.6,504.0 554.6,128.0 555.6,494.0 556.6,128.0 557.6,494.0 558.7,128.0 559.7,494.0 560.9,128.0 562.0,494.0 563.2,128.0 564.5,494.0 565.7,137.1 567.0,483.8 568.3,137.7 569.6,482.9 571.0,138.3 572.3,482.0 573.6,139.0 575.0,481.0 576.3,139.6 577.7,480.1 579.1,141.6 580.5,475.1 581.9,145.8 583.3,468.7 584.7,153.5 586.1,461.1 587.5,162.4 588.9,451.3 590.4,176.2 591.8,436.9 593.3,201.9 594.7,403.0 596.2,246.7 597.7,331.7"/>
<polyline fill="none" stroke="#939397" stroke-width="1.8" stroke-linejoin="round" points="845.2,327.9 845.9,290.4 846.6,327.9 847.1,350.7 848.0,357.5 849.5,357.5 850.3,350.7 851.0,327.9 851.0,333.0 851.7,267.0 852.4,333.0 852.9,363.0 853.7,372.0 855.2,372.0 856.0,363.0 856.7,333.0 856.7,333.0 857.4,252.0 858.1,333.0 858.7,363.0 859.5,372.0 860.9,372.0 861.7,363.0 862.4,333.0 862.4,343.5 863.1,235.6 863.8,343.5 864.3,388.5 865.1,402.0 866.6,402.0 867.4,388.5 868.1,343.5 868.1,343.5 868.7,222.0 869.4,343.5 870.0,388.5 870.7,402.0 872.2,402.0 873.0,388.5 873.7,343.5 873.7,345.4 874.3,222.0 875.0,345.4 875.5,393.1 876.3,407.4 877.8,407.4 878.5,393.1 879.2,345.4 879.2,350.5 879.9,202.0 880.5,350.5 881.1,405.5 881.8,422.0 883.3,422.0 884.0,405.5 884.7,350.5 884.7,354.7 885.4,202.0 886.0,354.7 886.5,415.7 887.3,434.0 888.7,434.0 889.5,415.7 890.1,354.7 890.1,363.8 890.8,187.0 891.4,363.8 892.0,437.8 892.7,460.0 894.1,460.0 894.9,437.8 895.5,363.8 895.5,363.8 896.1,164.0 896.6,363.8 897.1,437.8 897.7,460.0 898.9,460.0 899.5,437.8 900.1,363.8 900.1,363.8 900.5,164.0 901.0,363.8 901.4,437.8 902.0,460.0 903.0,460.0 903.6,437.8 904.0,363.8 904.0,363.8 904.5,164.0 904.9,363.8 905.2,437.8 905.7,460.0 906.6,460.0 907.1,437.8 907.5,363.8 907.5,363.8 907.9,164.0 908.3,363.8 908.6,437.8 909.0,460.0 909.8,460.0 910.2,437.8 910.6,363.8"/>
<polyline fill="none" stroke="#939397" stroke-width="1.8" stroke-linejoin="round" points="908.7,164.0 909.8,460.0 910.9,164.0 912.0,472.0 913.1,152.0 914.2,472.0 915.3,152.0 916.4,472.0 917.5,152.0 918.6,472.0 919.7,152.0 920.8,472.0 921.9,146.0 923.0,483.5 924.1,138.0 925.2,484.0 926.3,138.0 927.4,484.0 928.5,138.0 929.6,484.0 930.7,138.0 931.8,484.0 932.9,138.0 934.0,478.0 935.1,146.0 936.2,478.0 937.3,146.0 938.4,478.0 939.5,146.0 940.6,478.0 941.7,146.0 942.8,478.0 943.9,146.0 945.0,478.0 946.1,149.6 947.2,467.3"/>
<polyline fill="none" stroke="#939397" stroke-width="1.8" stroke-linejoin="round" points="947.1,224.9 947.3,190.2 947.6,169.9 948.0,157.7 948.5,153.6 949.0,157.7 949.4,169.9 949.7,190.2 949.9,224.9 950.7,462.0 951.3,462.0 952.1,228.2 952.3,194.8 952.6,175.3 953.1,163.5 953.6,159.6 954.1,163.5 954.6,175.3 954.9,194.8 955.1,228.2 956.0,461.7 956.6,461.7 957.5,231.2 957.8,199.1 958.1,180.3 958.6,168.9 959.1,165.1 959.7,168.9 960.2,180.3 960.5,199.1 960.8,231.2 961.7,457.0 962.3,457.0 963.3,231.7 963.6,199.7 963.9,181.0 964.5,169.8 965.1,166.0 965.7,169.8 966.2,181.0 966.6,199.7 966.8,231.7 967.9,451.7 968.5,451.7 969.6,232.8 969.9,201.3 970.3,182.9 970.8,171.8 971.5,168.1 972.2,171.8 972.7,182.9 973.1,201.3 973.4,232.8 974.6,453.1 975.2,453.1 976.4,234.3 976.7,203.4 977.1,185.3 977.7,174.4 978.4,170.8 979.1,174.4 979.7,185.3 980.1,203.4 980.4,234.3 981.7,454.2 982.3,454.2 983.6,232.4 983.9,200.8 984.4,182.3 985.0,171.1 985.7,167.4 986.4,171.1 987.1,182.3 987.5,200.8 987.8,232.4 989.1,450.8 989.7,450.8 991.1,234.5 991.4,203.7 991.8,185.7 992.5,174.8 993.2,171.2 994.0,174.8 994.6,185.7 995.0,203.7 995.4,234.5 996.7,444.4 997.3,444.4 998.7,237.7 999.1,208.1 999.5,190.8 1000.2,180.4 1000.9,176.9 1001.7,180.4 1002.4,190.8 1002.8,208.1 1003.1,237.7 1004.6,437.1 1005.2,437.1 1006.6,242.8 1006.9,215.2 1007.4,199.1 1008.0,189.4 1008.8,186.2 1009.6,189.4 1010.2,199.1 1010.7,215.2 1011.0,242.8 1012.5,426.0 1013.1,426.0 1014.5,247.6 1014.8,221.9 1015.3,206.9 1015.9,197.9 1016.7,194.9 1017.5,197.9 1018.2,206.9 1018.6,221.9 1018.9,247.6 1020.4,428.1 1021.0,428.1 1022.4,242.3 1022.8,214.6 1023.2,198.4 1023.9,188.6 1024.6,185.4 1025.4,188.6 1026.1,198.4 1026.5,214.6 1026.9,242.3 1028.3,437.4 1028.9,437.4 1030.4,238.9 1030.7,209.8 1031.1,192.7 1031.8,182.5 1032.6,179.0 1033.4,182.5 1034.0,192.7 1034.5,209.8 1034.8,238.9 1036.3,443.3 1036.9,443.3 1038.3,239.3 1038.6,210.4 1039.1,193.5 1039.8,183.3 1040.5,179.9 1041.3,183.3 1042.0,193.5 1042.4,210.4 1042.8,239.3 1044.2,443.2 1044.8,443.2 1046.3,244.8 1046.6,218.0 1047.1,202.4 1047.7,192.9 1048.5,189.8 1049.3,192.9 1050.0,202.4 1050.4,218.0 1050.7,244.8 1052.2,433.3 1052.8,433.3 1054.3,252.0 1054.6,228.2 1055.0,214.2 1055.7,205.8 1056.5,203.0 1057.3,205.8 1057.9,214.2 1058.4,228.2 1058.7,252.0 1060.2,420.5 1060.8,420.5 1062.2,260.7 1062.6,240.2 1063.1,228.3 1063.8,221.1 1064.6,218.7 1065.4,221.1 1066.1,228.3 1066.6,240.2 1066.9,260.7 1068.4,405.5 1069.0,405.5 1070.6,266.3 1071.0,248.1 1071.5,237.5 1072.3,231.1 1073.2,228.9 1074.2,231.1 1075.0,237.5 1075.5,248.1 1075.9,266.3 1077.7,388.7 1078.3,388.7 1080.0,281.4 1080.4,269.3 1080.9,262.2 1081.7,257.9 1082.5,256.5 1083.4,257.9 1084.2,262.2 1084.7,269.3 1085.0,281.4 1086.7,357.5 1087.3,357.5 1088.9,298.8 1089.3,293.5 1089.8,290.4 1090.5,288.6 1091.3,287.9 1092.1,288.6 1092.8,290.4 1093.3,293.5 1093.6,298.8 1095.2,320.0 1095.8,320.0"/>
<polyline fill="none" stroke="#939397" stroke-width="1.8" stroke-linejoin="round" points="1168.1,299.1 1168.4,294.0 1168.7,291.0 1169.2,289.2 1169.8,288.6 1170.4,289.2 1170.9,291.0 1171.2,294.0 1171.5,299.1 1172.5,349.2 1173.1,349.2 1174.1,282.1 1174.4,270.3 1174.7,263.3 1175.2,259.1 1175.8,257.7 1176.4,259.1 1176.9,263.3 1177.2,270.3 1177.4,282.1 1178.4,369.5 1179.0,369.5 1180.1,277.9 1180.3,264.3 1180.6,256.4 1181.1,251.6 1181.7,250.0 1182.3,251.6 1182.8,256.4 1183.1,264.3 1183.3,277.9 1184.3,372.0 1184.9,372.0 1185.9,273.2 1186.2,257.8 1186.5,248.8 1187.0,243.3 1187.5,241.5 1188.1,243.3 1188.6,248.8 1188.9,257.8 1189.2,273.2 1190.2,384.7 1190.8,384.7 1191.7,263.2 1192.0,243.8 1192.3,232.5 1192.8,225.6 1193.3,223.3 1193.9,225.6 1194.4,232.5 1194.7,243.8 1194.9,263.2 1195.9,400.0 1196.5,400.0 1197.5,254.0 1197.7,231.0 1198.0,217.5 1198.5,209.4 1199.1,206.6 1199.6,209.4 1200.1,217.5 1200.4,231.0 1200.7,254.0 1201.6,415.0 1202.2,415.0 1203.2,245.4 1203.4,219.0 1203.7,203.5 1204.2,194.1 1204.7,191.0 1205.3,194.1 1205.8,203.5 1206.1,219.0 1206.3,245.4 1207.2,432.0 1207.8,432.0 1208.8,245.2 1209.0,218.6 1209.2,203.0 1209.6,193.7 1210.1,190.5 1210.6,193.7 1211.0,203.0 1211.3,218.6 1211.5,245.2 1212.3,433.8 1212.9,433.8 1213.6,235.6 1213.8,205.2 1214.0,187.5 1214.3,176.8 1214.7,173.1 1215.1,176.8 1215.4,187.5 1215.6,205.2 1215.8,235.6 1216.3,446.9 1216.9,446.9 1218.3,160.0 1219.8,462.0 1221.1,160.0 1222.2,462.0 1223.2,160.0 1224.1,462.0 1224.9,160.0 1225.8,462.0 1226.7,160.0 1227.6,462.0 1228.5,154.8 1229.4,469.8 1230.3,150.0 1231.2,473.0 1232.1,150.0 1233.0,473.0 1233.8,150.0 1234.7,473.0 1235.6,150.0 1236.5,473.0 1237.4,150.0 1238.2,473.0 1239.1,150.0 1240.0,473.0 1240.9,150.0 1241.7,481.7 1242.6,138.6 1243.5,485.1 1244.3,134.5 1245.2,487.5 1246.1,133.0 1246.9,489.9 1247.8,133.0 1248.7,490.0 1249.5,133.0 1250.4,490.0 1251.2,133.0 1252.1,490.0 1252.9,133.0 1253.8,490.0 1254.6,133.0 1255.5,490.0 1256.3,133.0 1257.2,490.0 1258.0,133.0 1258.9,490.0 1259.7,133.0 1260.6,490.0 1261.4,133.0 1262.2,490.0 1263.1,133.0 1263.9,490.0 1264.8,133.0 1265.6,490.0 1266.4,133.0 1267.2,490.0 1268.1,133.0 1268.9,490.0 1269.7,133.0 1270.6,490.0 1271.4,133.0 1272.2,490.0 1273.0,133.0 1273.9,490.0 1274.7,133.0 1275.5,490.0 1276.3,133.0 1277.1,490.0 1277.9,133.0 1278.8,488.1 1279.6,135.8 1280.4,485.0 1281.2,138.0 1282.0,485.0 1282.8,138.0 1283.6,485.0 1284.4,138.0 1285.2,484.9 1286.0,138.0 1286.8,484.1 1287.9,139.1 1289.1,484.0 1290.5,139.2 1292.1,484.0 1293.6,139.4 1295.2,484.0 1296.7,139.7 1298.3,484.0 1299.8,139.9 1301.4,484.0 1302.9,140.1 1304.5,484.0 1306.0,140.3 1307.6,484.0 1309.1,140.5 1310.7,484.0 1312.2,140.7 1313.8,484.0 1315.3,140.9 1316.9,484.0"/>
<polyline fill="none" stroke="#939397" stroke-width="1.6" stroke-linejoin="round" points="104.3,357.0 125.0,356.6 140.0,357.4 147.0,357.6 155.0,359.0 160.0,359.5 166.0,357.5 170.0,353.0 173.0,345.0 175.0,330.0 176.2,300.0 177.0,273.0 177.8,300.0 178.5,335.0 179.5,350.0 181.0,347.0 184.0,338.0 186.0,325.0 187.4,305.0 188.0,298.0 188.8,310.0 190.0,323.0 192.0,326.0 194.0,322.0 195.2,308.0 196.0,298.0 196.8,310.0 197.5,322.0 199.0,326.0 201.0,323.0 203.0,318.0 205.0,314.0 208.0,312.5 214.0,312.0"/>
<polyline fill="none" stroke="#939397" stroke-width="1.6" stroke-linejoin="round" points="254.0,312.5 262.0,311.5 270.0,312.3 280.0,311.2 290.0,312.4 300.0,311.5 310.0,312.0 320.0,311.4 329.0,312.0"/>
<polyline fill="none" stroke="#939397" stroke-width="1.6" stroke-linejoin="round" points="410.0,300.0 411.0,285.0 412.0,330.0 413.0,312.0 420.0,312.0 427.0,313.0 429.0,322.0 431.0,327.0 433.0,328.0 434.5,320.0 435.0,296.0 436.0,310.0 437.0,330.0 438.0,310.0 439.0,298.0 440.0,306.0 441.0,300.0 442.0,326.0 443.0,300.0 444.0,296.0 445.0,330.0 446.0,295.0 447.0,280.0 448.0,340.0"/>
<polyline fill="none" stroke="#939397" stroke-width="1.6" stroke-linejoin="round" points="598.0,330.0 599.5,285.0 601.0,340.0 602.5,280.0 603.5,346.0 605.0,278.0 606.5,300.0 608.0,280.0 609.0,346.0 610.5,290.0 612.0,305.0 613.0,312.0 625.0,312.0 630.0,313.0 632.0,322.0 633.5,330.0 635.0,310.0 636.0,252.0 636.6,300.0 637.0,371.0 637.8,330.0 638.5,300.0 639.5,330.0 641.0,312.0 650.0,312.0 662.0,311.5 668.0,310.0 670.0,300.0 672.0,292.0 674.0,288.0 676.0,300.0 677.2,258.0 678.0,330.0 678.8,364.0 679.6,320.0 681.0,300.0 682.5,322.0 684.0,300.0 685.5,322.0 687.0,300.0 688.5,322.0 690.0,302.0 691.5,322.0 693.0,302.0 694.5,321.0 696.0,303.0 697.5,320.0 699.0,306.0 700.5,318.0 702.0,312.0"/>
<polyline fill="none" stroke="#939397" stroke-width="1.6" stroke-linejoin="round" points="702.0,312.0 720.0,311.6 760.0,312.2 800.0,311.7 809.0,312.0 810.5,315.0 812.0,317.0 814.0,317.5 816.0,316.0 817.5,312.0 845.0,312.0"/>
<polyline fill="none" stroke="#939397" stroke-width="1.6" stroke-linejoin="round" points="1095.0,312.0 1120.0,311.6 1150.0,312.2 1153.0,311.0 1156.0,313.5 1159.0,311.0 1162.0,314.0 1165.0,310.0 1168.0,312.0"/><line x1="455.8" y1="214.6" x2="455.8" y2="244.4" stroke="#fff" stroke-opacity="0.47" stroke-width="1"/><line x1="457.1" y1="413.3" x2="457.1" y2="382.9" stroke="#fff" stroke-opacity="0.45" stroke-width="1"/><line x1="458.2" y1="194.2" x2="458.2" y2="225.0" stroke="#fff" stroke-opacity="0.44" stroke-width="1"/><line x1="459.5" y1="429.2" x2="459.5" y2="396.5" stroke="#fff" stroke-opacity="0.43" stroke-width="1"/><line x1="460.2" y1="179.0" x2="460.2" y2="216.5" stroke="#fff" stroke-opacity="0.42" stroke-width="1"/><line x1="461.5" y1="441.0" x2="461.5" y2="344.5" stroke="#fff" stroke-opacity="0.36" stroke-width="1"/><line x1="462.3" y1="179.0" x2="462.3" y2="255.2" stroke="#fff" stroke-opacity="0.54" stroke-width="1"/><line x1="463.6" y1="441.0" x2="463.6" y2="363.7" stroke="#fff" stroke-opacity="0.42" stroke-width="1"/><line x1="465.7" y1="179.0" x2="465.7" y2="213.4" stroke="#fff" stroke-opacity="0.52" stroke-width="1"/><line x1="467.0" y1="441.0" x2="467.0" y2="385.8" stroke="#fff" stroke-opacity="0.36" stroke-width="1"/><line x1="467.7" y1="179.0" x2="467.7" y2="232.2" stroke="#fff" stroke-opacity="0.51" stroke-width="1"/><line x1="469.0" y1="441.0" x2="469.0" y2="394.1" stroke="#fff" stroke-opacity="0.46" stroke-width="1"/><line x1="470.5" y1="179.0" x2="470.5" y2="236.8" stroke="#fff" stroke-opacity="0.45" stroke-width="1"/><line x1="471.8" y1="441.0" x2="471.8" y2="403.2" stroke="#fff" stroke-opacity="0.34" stroke-width="1"/><line x1="472.6" y1="153.0" x2="472.6" y2="250.1" stroke="#fff" stroke-opacity="0.42" stroke-width="1"/><line x1="473.9" y1="468.0" x2="473.9" y2="399.0" stroke="#fff" stroke-opacity="0.46" stroke-width="1"/><line x1="475.2" y1="153.0" x2="475.2" y2="216.8" stroke="#fff" stroke-opacity="0.50" stroke-width="1"/><line x1="476.5" y1="468.0" x2="476.5" y2="363.2" stroke="#fff" stroke-opacity="0.38" stroke-width="1"/><line x1="553.3" y1="116.0" x2="553.3" y2="258.8" stroke="#fff" stroke-opacity="0.45" stroke-width="1"/><line x1="554.5" y1="505.0" x2="554.5" y2="422.8" stroke="#fff" stroke-opacity="0.50" stroke-width="1"/><line x1="555.1" y1="127.0" x2="555.1" y2="214.2" stroke="#fff" stroke-opacity="0.45" stroke-width="1"/><line x1="556.3" y1="495.0" x2="556.3" y2="431.9" stroke="#fff" stroke-opacity="0.40" stroke-width="1"/><line x1="556.8" y1="127.0" x2="556.8" y2="240.0" stroke="#fff" stroke-opacity="0.45" stroke-width="1"/><line x1="558.0" y1="495.0" x2="558.0" y2="385.9" stroke="#fff" stroke-opacity="0.48" stroke-width="1"/><line x1="559.0" y1="127.0" x2="559.0" y2="242.8" stroke="#fff" stroke-opacity="0.42" stroke-width="1"/><line x1="560.2" y1="495.0" x2="560.2" y2="385.2" stroke="#fff" stroke-opacity="0.39" stroke-width="1"/><line x1="561.9" y1="127.0" x2="561.9" y2="268.5" stroke="#fff" stroke-opacity="0.39" stroke-width="1"/><line x1="563.1" y1="495.0" x2="563.1" y2="376.0" stroke="#fff" stroke-opacity="0.31" stroke-width="1"/><line x1="564.6" y1="127.0" x2="564.6" y2="237.8" stroke="#fff" stroke-opacity="0.50" stroke-width="1"/><line x1="565.8" y1="495.0" x2="565.8" y2="358.7" stroke="#fff" stroke-opacity="0.36" stroke-width="1"/><line x1="566.8" y1="136.3" x2="566.8" y2="243.3" stroke="#fff" stroke-opacity="0.30" stroke-width="1"/><line x1="568.0" y1="484.9" x2="568.0" y2="393.3" stroke="#fff" stroke-opacity="0.33" stroke-width="1"/><line x1="568.6" y1="136.8" x2="568.6" y2="184.1" stroke="#fff" stroke-opacity="0.45" stroke-width="1"/><line x1="569.8" y1="484.3" x2="569.8" y2="427.2" stroke="#fff" stroke-opacity="0.35" stroke-width="1"/><line x1="570.9" y1="137.3" x2="570.9" y2="263.3" stroke="#fff" stroke-opacity="0.32" stroke-width="1"/><line x1="572.1" y1="483.5" x2="572.1" y2="393.9" stroke="#fff" stroke-opacity="0.41" stroke-width="1"/><line x1="573.8" y1="138.0" x2="573.8" y2="258.4" stroke="#fff" stroke-opacity="0.47" stroke-width="1"/><line x1="575.0" y1="482.4" x2="575.0" y2="410.8" stroke="#fff" stroke-opacity="0.38" stroke-width="1"/><line x1="576.0" y1="138.5" x2="576.0" y2="264.8" stroke="#fff" stroke-opacity="0.49" stroke-width="1"/><line x1="577.2" y1="481.7" x2="577.2" y2="423.2" stroke="#fff" stroke-opacity="0.34" stroke-width="1"/><line x1="578.0" y1="139.1" x2="578.0" y2="202.4" stroke="#fff" stroke-opacity="0.40" stroke-width="1"/><line x1="579.2" y1="480.9" x2="579.2" y2="378.6" stroke="#fff" stroke-opacity="0.35" stroke-width="1"/><line x1="579.7" y1="141.6" x2="579.7" y2="221.5" stroke="#fff" stroke-opacity="0.37" stroke-width="1"/><line x1="580.9" y1="477.5" x2="580.9" y2="379.5" stroke="#fff" stroke-opacity="0.49" stroke-width="1"/><line x1="582.4" y1="146.1" x2="582.4" y2="232.6" stroke="#fff" stroke-opacity="0.42" stroke-width="1"/><line x1="583.6" y1="471.9" x2="583.6" y2="366.7" stroke="#fff" stroke-opacity="0.31" stroke-width="1"/><line x1="585.4" y1="154.5" x2="585.4" y2="259.2" stroke="#fff" stroke-opacity="0.47" stroke-width="1"/><line x1="586.6" y1="464.0" x2="586.6" y2="353.0" stroke="#fff" stroke-opacity="0.38" stroke-width="1"/><line x1="587.6" y1="162.1" x2="587.6" y2="205.8" stroke="#fff" stroke-opacity="0.43" stroke-width="1"/><line x1="588.8" y1="458.0" x2="588.8" y2="415.3" stroke="#fff" stroke-opacity="0.31" stroke-width="1"/><line x1="589.6" y1="171.6" x2="589.6" y2="216.8" stroke="#fff" stroke-opacity="0.37" stroke-width="1"/><line x1="590.8" y1="448.9" x2="590.8" y2="409.6" stroke="#fff" stroke-opacity="0.30" stroke-width="1"/><line x1="591.5" y1="180.7" x2="591.5" y2="218.5" stroke="#fff" stroke-opacity="0.37" stroke-width="1"/><line x1="592.7" y1="439.4" x2="592.7" y2="404.9" stroke="#fff" stroke-opacity="0.47" stroke-width="1"/><line x1="594.1" y1="212.1" x2="594.1" y2="242.6" stroke="#fff" stroke-opacity="0.35" stroke-width="1"/><line x1="595.3" y1="412.0" x2="595.3" y2="365.6" stroke="#fff" stroke-opacity="0.37" stroke-width="1"/><line x1="595.9" y1="238.1" x2="595.9" y2="285.4" stroke="#fff" stroke-opacity="0.50" stroke-width="1"/><line x1="597.1" y1="382.2" x2="597.1" y2="344.6" stroke="#fff" stroke-opacity="0.40" stroke-width="1"/><line x1="597.7" y1="291.2" x2="597.7" y2="294.7" stroke="#fff" stroke-opacity="0.37" stroke-width="1"/><line x1="598.9" y1="331.3" x2="598.9" y2="322.8" stroke="#fff" stroke-opacity="0.47" stroke-width="1"/><line x1="476.2" y1="153.0" x2="476.2" y2="273.8" stroke="#fff" stroke-opacity="0.15" stroke-width="1"/><line x1="480.7" y1="468.0" x2="480.7" y2="414.6" stroke="#fff" stroke-opacity="0.15" stroke-width="1"/><line x1="482.7" y1="133.0" x2="482.7" y2="228.1" stroke="#fff" stroke-opacity="0.18" stroke-width="1"/><line x1="487.2" y1="488.0" x2="487.2" y2="352.6" stroke="#fff" stroke-opacity="0.16" stroke-width="1"/><line x1="490.4" y1="116.0" x2="490.4" y2="203.0" stroke="#fff" stroke-opacity="0.12" stroke-width="1"/><line x1="494.9" y1="508.0" x2="494.9" y2="367.9" stroke="#fff" stroke-opacity="0.15" stroke-width="1"/><line x1="500.9" y1="102.0" x2="500.9" y2="191.2" stroke="#fff" stroke-opacity="0.12" stroke-width="1"/><line x1="505.4" y1="521.0" x2="505.4" y2="366.7" stroke="#fff" stroke-opacity="0.18" stroke-width="1"/><line x1="511.8" y1="102.0" x2="511.8" y2="247.5" stroke="#fff" stroke-opacity="0.17" stroke-width="1"/><line x1="516.3" y1="521.0" x2="516.3" y2="375.7" stroke="#fff" stroke-opacity="0.12" stroke-width="1"/><line x1="520.9" y1="102.0" x2="520.9" y2="194.3" stroke="#fff" stroke-opacity="0.11" stroke-width="1"/><line x1="525.4" y1="521.0" x2="525.4" y2="464.5" stroke="#fff" stroke-opacity="0.13" stroke-width="1"/><line x1="528.6" y1="102.0" x2="528.6" y2="234.1" stroke="#fff" stroke-opacity="0.18" stroke-width="1"/><line x1="533.1" y1="521.0" x2="533.1" y2="412.2" stroke="#fff" stroke-opacity="0.18" stroke-width="1"/><line x1="540.2" y1="106.0" x2="540.2" y2="265.8" stroke="#fff" stroke-opacity="0.13" stroke-width="1"/><line x1="544.7" y1="512.0" x2="544.7" y2="434.9" stroke="#fff" stroke-opacity="0.12" stroke-width="1"/><line x1="547.6" y1="116.0" x2="547.6" y2="185.2" stroke="#fff" stroke-opacity="0.15" stroke-width="1"/><line x1="552.1" y1="505.0" x2="552.1" y2="352.3" stroke="#fff" stroke-opacity="0.17" stroke-width="1"/><line x1="896.0" y1="163.0" x2="896.0" y2="263.3" stroke="#fff" stroke-opacity="0.32" stroke-width="1"/><line x1="897.5" y1="461.0" x2="897.5" y2="364.3" stroke="#fff" stroke-opacity="0.48" stroke-width="1"/><line x1="899.5" y1="163.0" x2="899.5" y2="259.2" stroke="#fff" stroke-opacity="0.40" stroke-width="1"/><line x1="901.0" y1="461.0" x2="901.0" y2="407.1" stroke="#fff" stroke-opacity="0.46" stroke-width="1"/><line x1="902.2" y1="163.0" x2="902.2" y2="263.3" stroke="#fff" stroke-opacity="0.49" stroke-width="1"/><line x1="903.7" y1="461.0" x2="903.7" y2="387.8" stroke="#fff" stroke-opacity="0.38" stroke-width="1"/><line x1="906.0" y1="163.0" x2="906.0" y2="257.1" stroke="#fff" stroke-opacity="0.33" stroke-width="1"/><line x1="907.5" y1="461.0" x2="907.5" y2="411.7" stroke="#fff" stroke-opacity="0.33" stroke-width="1"/><line x1="909.7" y1="163.0" x2="909.7" y2="263.8" stroke="#fff" stroke-opacity="0.33" stroke-width="1"/><line x1="911.2" y1="461.0" x2="911.2" y2="349.6" stroke="#fff" stroke-opacity="0.50" stroke-width="1"/><line x1="946.1" y1="148.6" x2="946.1" y2="236.7" stroke="#fff" stroke-opacity="0.26" stroke-width="1"/><line x1="947.6" y1="473.4" x2="947.6" y2="430.9" stroke="#fff" stroke-opacity="0.40" stroke-width="1"/><line x1="949.3" y1="153.5" x2="949.3" y2="236.9" stroke="#fff" stroke-opacity="0.39" stroke-width="1"/><line x1="950.8" y1="463.0" x2="950.8" y2="385.5" stroke="#fff" stroke-opacity="0.38" stroke-width="1"/><line x1="1213.5" y1="176.5" x2="1213.5" y2="226.6" stroke="#fff" stroke-opacity="0.36" stroke-width="1"/><line x1="1214.8" y1="438.0" x2="1214.8" y2="387.7" stroke="#fff" stroke-opacity="0.42" stroke-width="1"/><line x1="1215.8" y1="167.9" x2="1215.8" y2="234.6" stroke="#fff" stroke-opacity="0.33" stroke-width="1"/><line x1="1217.1" y1="445.1" x2="1217.1" y2="338.9" stroke="#fff" stroke-opacity="0.37" stroke-width="1"/><line x1="1218.3" y1="159.0" x2="1218.3" y2="244.0" stroke="#fff" stroke-opacity="0.48" stroke-width="1"/><line x1="1219.6" y1="458.2" x2="1219.6" y2="384.2" stroke="#fff" stroke-opacity="0.48" stroke-width="1"/><line x1="1220.9" y1="159.0" x2="1220.9" y2="239.7" stroke="#fff" stroke-opacity="0.40" stroke-width="1"/><line x1="1222.2" y1="463.0" x2="1222.2" y2="422.8" stroke="#fff" stroke-opacity="0.39" stroke-width="1"/><line x1="1223.0" y1="159.0" x2="1223.0" y2="195.3" stroke="#fff" stroke-opacity="0.46" stroke-width="1"/><line x1="1224.3" y1="463.0" x2="1224.3" y2="409.0" stroke="#fff" stroke-opacity="0.39" stroke-width="1"/><line x1="1226.0" y1="159.0" x2="1226.0" y2="241.7" stroke="#fff" stroke-opacity="0.37" stroke-width="1"/><line x1="1227.3" y1="463.0" x2="1227.3" y2="377.8" stroke="#fff" stroke-opacity="0.41" stroke-width="1"/><line x1="1227.3" y1="159.0" x2="1227.3" y2="242.1" stroke="#fff" stroke-opacity="0.07" stroke-width="1"/><line x1="1233.3" y1="463.0" x2="1233.3" y2="399.6" stroke="#fff" stroke-opacity="0.09" stroke-width="1"/><line x1="1239.3" y1="149.0" x2="1239.3" y2="238.1" stroke="#fff" stroke-opacity="0.09" stroke-width="1"/><line x1="1245.3" y1="474.0" x2="1245.3" y2="344.6" stroke="#fff" stroke-opacity="0.08" stroke-width="1"/><line x1="1252.1" y1="132.0" x2="1252.1" y2="225.4" stroke="#fff" stroke-opacity="0.08" stroke-width="1"/><line x1="1258.1" y1="491.0" x2="1258.1" y2="371.5" stroke="#fff" stroke-opacity="0.08" stroke-width="1"/><line x1="1264.4" y1="132.0" x2="1264.4" y2="222.6" stroke="#fff" stroke-opacity="0.10" stroke-width="1"/><line x1="1270.4" y1="491.0" x2="1270.4" y2="370.8" stroke="#fff" stroke-opacity="0.10" stroke-width="1"/><line x1="1279.6" y1="134.8" x2="1279.6" y2="202.4" stroke="#fff" stroke-opacity="0.08" stroke-width="1"/><line x1="1285.6" y1="487.1" x2="1285.6" y2="344.0" stroke="#fff" stroke-opacity="0.09" stroke-width="1"/></g>
<line x1="104.30" y1="311.70" x2="1339.80" y2="311.70" stroke="#111" stroke-width="1.5" />
<polyline fill="none" stroke="#d42840" stroke-width="2" points="104.3,522.4 108.3,522.2 112.3,522.0 116.3,521.8 120.3,521.6 124.3,521.3 128.3,521.0 132.3,520.7 136.3,520.4 140.3,520.0 144.3,519.6 148.3,519.2 152.3,518.7 156.3,518.3 160.3,517.8 164.3,517.3 168.3,516.7 172.3,516.2 176.3,515.6 180.3,515.0 184.3,514.3 188.3,513.7 192.3,513.0 196.3,512.3 200.3,511.6 204.3,510.8 208.3,510.0 212.3,509.2 216.3,508.4 220.3,507.6 224.3,506.7 228.3,505.9 232.3,505.0 236.3,504.0 240.3,503.1 244.3,502.1 248.3,501.2 252.3,500.2 256.3,499.1 260.3,498.1 264.3,497.0 268.3,496.0 272.3,494.9 276.3,493.8 280.3,492.6 284.3,491.5 288.3,490.3 292.3,489.1 296.3,487.9 300.3,486.7 304.3,485.5 308.3,484.2 312.3,482.9 316.3,481.6 320.3,480.3 324.3,479.0 328.3,477.7 332.3,476.3 336.3,474.9 340.3,473.5 344.3,472.1 348.3,470.7 352.3,469.3 356.3,467.9 360.3,466.4 364.3,464.9 368.3,463.4 372.3,461.9 376.3,460.4 380.3,458.9 384.3,457.3 388.3,455.8 392.3,454.2 396.3,452.6 400.3,451.0 404.3,449.4 408.3,447.8 412.3,446.2 416.3,444.5 420.3,442.9 424.3,441.2 428.3,439.5 432.3,437.8 436.3,436.1 440.3,434.4 444.3,432.7 448.3,431.0 452.3,429.2 456.3,427.5 460.3,425.7 464.3,423.9 468.3,422.2 472.3,420.4 476.3,418.6 480.3,416.8 484.3,415.0 488.3,413.1 492.3,411.3 496.3,409.5 500.3,407.6 504.3,405.7 508.3,403.9 512.3,402.0 516.3,400.1 520.3,398.2 524.3,396.3 528.3,394.4 532.3,392.5 536.3,390.6 540.3,388.7 544.3,386.8 548.3,384.9 552.3,382.9 556.3,381.0 560.3,379.0 564.3,377.1 568.3,375.1 572.3,373.2 576.3,371.2 580.3,369.2 584.3,367.2 588.3,365.3 592.3,363.3 596.3,361.3 600.3,359.3 604.3,357.3 608.3,355.3 612.3,353.3 616.3,351.3 620.3,349.3 624.3,347.3 628.3,345.3 632.3,343.3 636.3,341.3 640.3,339.2 644.3,337.2 648.3,335.2 652.3,333.2 656.3,331.2 660.3,329.2 664.3,327.1 668.3,325.1 672.3,323.1 676.3,321.1 680.3,319.0 684.3,317.0 688.3,315.0 692.3,313.0 696.3,310.9 700.3,308.9 704.3,306.9 708.3,304.9 712.3,302.9 716.3,300.8 720.3,298.8 724.3,296.8 728.3,294.8 732.3,292.8 736.3,290.8 740.3,288.8 744.3,286.8 748.3,284.8 752.3,282.8 756.3,280.8 760.3,278.8 764.3,276.8 768.3,274.8 772.3,272.8 776.3,270.9 780.3,268.9 784.3,266.9 788.3,265.0 792.3,263.0 796.3,261.0 800.3,259.1 804.3,257.1 808.3,255.2 812.3,253.3 816.3,251.3 820.3,249.4 824.3,247.5 828.3,245.6 832.3,243.7 836.3,241.8 840.3,239.9 844.3,238.0 848.3,236.1 852.3,234.2 856.3,232.4 860.3,230.5 864.3,228.7 868.3,226.8 872.3,225.0 876.3,223.2 880.3,221.3 884.3,219.5 888.3,217.7 892.3,215.9 896.3,214.1 900.3,212.4 904.3,210.6 908.3,208.8 912.3,207.1 916.3,205.3 920.3,203.6 924.3,201.9 928.3,200.2 932.3,198.5 936.3,196.8 940.3,195.1 944.3,193.4 948.3,191.7 952.3,190.1 956.3,188.4 960.3,186.8 964.3,185.2 968.3,183.6 972.3,182.0 976.3,180.4 980.3,178.8 984.3,177.3 988.3,175.7 992.3,174.2 996.3,172.6 1000.3,171.1 1004.3,169.6 1008.3,168.1 1012.3,166.7 1016.3,165.2 1020.3,163.7 1024.3,162.3 1028.3,160.9 1032.3,159.5 1036.3,158.1 1040.3,156.7 1044.3,155.3 1048.3,154.0 1052.3,152.6 1056.3,151.3 1060.3,150.0 1064.3,148.7 1068.3,147.4 1072.3,146.1 1076.3,144.9 1080.3,143.6 1084.3,142.4 1088.3,141.2 1092.3,140.0 1096.3,138.8 1100.3,137.7 1104.3,136.5 1108.3,135.4 1112.3,134.3 1116.3,133.2 1120.3,132.1 1124.3,131.1 1128.3,130.0 1132.3,129.0 1136.3,128.0 1140.3,127.0 1144.3,126.0 1148.3,125.0 1152.3,124.1 1156.3,123.2 1160.3,122.3 1164.3,121.4 1168.3,120.5 1172.3,119.6 1176.3,118.8 1180.3,118.0 1184.3,117.2 1188.3,116.4 1192.3,115.6 1196.3,114.9 1200.3,114.2 1204.3,113.5 1208.3,112.8 1212.3,112.1 1216.3,111.5 1220.3,110.9 1224.3,110.2 1228.3,109.7 1232.3,109.1 1236.3,108.5 1240.3,108.0 1244.3,107.5 1248.3,107.0 1252.3,106.6 1256.3,106.1 1260.3,105.7 1264.3,105.3 1268.3,104.9 1272.3,104.6 1276.3,104.2 1280.3,103.9 1284.3,103.6 1288.3,103.3 1292.3,103.1 1296.3,102.9 1300.3,102.7 1304.3,102.5 1308.3,102.3 1312.3,102.2 1316.3,102.1 1320.3,102.0 1324.3,101.9 1328.3,101.9 1332.3,101.8 1336.3,101.8"/>
<polyline fill="none" stroke="#000" stroke-width="4" stroke-linejoin="round" points="104.3,503.1 108.3,502.4 112.3,501.8 116.3,501.1 120.3,500.3 124.3,499.6 128.3,498.8 132.3,498.1 136.3,497.2 140.3,496.4 144.3,495.6 148.3,494.7 152.3,493.8 156.3,492.9 160.3,492.0 164.3,491.0 168.3,490.0 172.3,489.0 176.3,488.0 180.3,487.0 184.3,485.9 188.3,484.8 192.3,483.7 196.3,482.6 200.3,481.5 204.3,480.3 208.3,479.2 212.3,478.0 216.3,476.8 220.3,475.5 224.3,474.3 228.3,473.0 232.3,471.7 236.3,470.5 240.3,469.1 244.3,467.8 248.3,466.5 252.3,465.1 256.3,463.7 260.3,462.3 264.3,460.9 268.3,459.4 272.3,458.0 276.3,456.5 280.3,455.0 284.3,453.5 288.3,452.0 292.3,450.4 296.3,448.9 300.3,447.3 304.3,445.7 308.3,444.1 312.3,442.5 316.3,440.9 320.3,439.3 324.3,437.6 328.3,436.0 332.3,434.4 336.3,432.8 340.3,431.2 344.3,429.5 348.3,427.9 352.3,426.2 356.3,424.6 360.3,422.9 364.3,421.2 368.3,419.5 372.3,417.8 376.3,416.1 380.3,414.3 384.3,412.6 388.3,410.8 392.3,409.1 396.3,407.3 400.3,405.5 404.3,403.7 408.3,401.9 412.3,400.1 416.3,398.3 420.3,396.4 424.3,394.6 428.3,392.8 432.3,390.9 436.3,389.0 440.3,387.2 444.3,385.3 448.3,383.4 452.3,381.5 456.3,379.6 460.3,377.7 464.3,375.9 468.3,374.0 472.3,372.1 476.3,370.2 480.3,368.4 484.3,366.5 488.3,364.6 492.3,362.7 496.3,360.8 500.3,358.9 504.3,357.0 508.3,355.0 512.3,353.1 516.3,351.2 520.3,349.3 524.3,347.3 528.3,345.4 532.3,343.5 536.3,341.6 540.3,339.7 544.3,337.8 548.3,335.8 552.3,333.9 556.3,332.0 560.3,330.1 564.3,328.1 568.3,326.2 572.3,324.3 576.3,322.3 580.3,320.4 584.3,318.5 588.3,316.5 592.3,314.6 596.3,312.7 600.3,310.8 604.3,308.9 608.3,307.0 612.3,305.1 616.3,303.2 620.3,301.3 624.3,299.5 628.3,297.6 632.3,295.7 636.3,293.8 640.3,292.0 644.3,290.1 648.3,288.2 652.3,286.3 656.3,284.5 660.3,282.6 664.3,280.7 668.3,278.9 672.3,277.0 676.3,275.2 680.3,273.4 684.3,271.6 688.3,269.8 692.3,268.0 696.3,266.2 700.3,264.5 704.3,262.7 708.3,260.9 712.3,259.1 716.3,257.3 720.3,255.6 724.3,253.8 728.3,252.0 732.3,250.3 736.3,248.5 740.3,246.8 744.3,245.0 748.3,243.3 752.3,241.6 756.3,239.8 760.3,238.1 764.3,236.4 768.3,234.7 772.3,233.0 776.3,231.3 780.3,229.6 784.3,227.9 788.3,226.2 792.3,224.5 796.3,222.9 800.3,221.2 804.3,219.6 808.3,217.9 812.3,216.3 816.3,214.6 820.3,213.1 824.3,211.5 828.3,209.9 832.3,208.4 836.3,206.8 840.3,205.3 844.3,203.8 848.3,202.2 852.3,200.7 856.3,199.2 860.3,197.7 864.3,196.2 868.3,194.7 872.3,193.3 876.3,191.8 880.3,190.4 884.3,188.9 888.3,187.5 892.3,186.0 896.3,184.7 900.3,183.3 904.3,181.9 908.3,180.6 912.3,179.2 916.3,177.9 920.3,176.6 924.3,175.2 928.3,173.9 932.3,172.6 936.3,171.4 940.3,170.1 944.3,168.8 948.3,167.6 952.3,166.3 956.3,165.1 960.3,163.9 964.3,162.7 968.3,161.5 972.3,160.3 976.3,159.1 980.3,157.9 984.3,156.8 988.3,155.6 992.3,154.5 996.3,153.4 1000.3,152.3 1004.3,151.2 1008.3,150.1 1012.3,149.0 1016.3,148.0 1020.3,146.9 1024.3,145.9 1028.3,144.9 1032.3,143.9 1036.3,142.9 1040.3,141.9 1044.3,141.0 1048.3,140.0 1052.3,139.1 1056.3,138.2 1060.3,137.3 1064.3,136.4 1068.3,135.5 1072.3,134.7 1076.3,133.8 1080.3,133.0 1084.3,132.2 1088.3,131.4 1092.3,130.6 1096.3,129.8 1100.3,129.1 1104.3,128.3 1108.3,127.6 1112.3,126.9 1116.3,126.2 1120.3,125.5 1124.3,124.9 1128.3,124.2 1132.3,123.6 1136.3,123.0 1140.3,122.4 1144.3,121.8 1148.3,121.2 1152.3,120.7 1156.3,120.2 1160.3,119.6 1164.3,119.1 1168.3,118.6 1172.3,118.2 1176.3,117.7 1180.3,117.3 1184.3,116.9 1188.3,116.5 1192.3,116.1 1196.3,115.7 1200.3,115.3 1204.3,115.0 1208.3,114.7 1212.3,114.4 1216.3,114.1 1220.3,113.8 1224.3,113.6 1228.3,113.3 1232.3,113.1 1236.3,112.9 1240.3,112.7 1244.3,112.6 1248.3,112.4 1252.3,112.2 1256.3,112.1 1260.3,112.0 1264.3,111.9 1268.3,111.8 1272.3,111.8 1276.3,111.7 1280.3,111.7 1284.3,111.7 1288.3,111.7 1292.3,111.7 1296.3,111.7 1300.3,111.8 1304.3,111.8 1308.3,111.9 1312.3,112.0 1316.3,112.1"/>
<text transform="translate(502.50,710.50) scale(1.0,1)" font-size="24" fill="#ea5a62" stroke="#ea5a62" stroke-width="0.2" text-anchor="start" >(c)</text>
<g fill="#5b63b2" stroke="none" shape-rendering="crispEdges"><rect x="144.4" y="713.0" width="7.9" height="286.0"/><rect x="185.0" y="621.6" width="6.3" height="378.8"/><rect x="199.4" y="595.4" width="8.3" height="391.0"/><rect x="211.6" y="603.0" width="6.3" height="377.4"/><rect x="246.4" y="621.6" width="5.9" height="378.8"/><rect x="260.6" y="603.0" width="8.1" height="373.4"/><rect x="281.0" y="599.0" width="7.9" height="383.4"/><rect x="312.0" y="593.0" width="5.9" height="367.0"/><rect x="322.0" y="599.0" width="8.3" height="379.0"/><rect x="336.4" y="580.6" width="6.3" height="375.4"/><rect x="342.4" y="567.0" width="1.9" height="389.0"/><rect x="344.0" y="567.0" width="4.3" height="383.0"/><rect x="348.0" y="567.0" width="4.7" height="364.0"/><rect x="352.4" y="567.0" width="4.3" height="333.0"/><rect x="365.0" y="566.0" width="4.3" height="320.0"/><rect x="369.0" y="566.0" width="9.7" height="448.0"/><rect x="381.6" y="850.0" width="4.1" height="164.0"/><rect x="385.4" y="793.0" width="4.5" height="221.0"/><rect x="389.6" y="566.0" width="3.7" height="448.0"/><rect x="393.0" y="566.0" width="5.3" height="349.0"/><rect x="398.0" y="566.0" width="4.3" height="448.0"/><rect x="402.0" y="570.6" width="3.3" height="443.4"/><rect x="405.0" y="591.0" width="6.3" height="205.0"/><rect x="414.0" y="603.0" width="6.3" height="371.0"/><rect x="424.0" y="609.4" width="8.3" height="380.6"/><rect x="432.0" y="596.0" width="5.3" height="374.0"/><rect x="437.0" y="566.0" width="3.3" height="404.0"/><rect x="440.0" y="566.0" width="2.7" height="375.0"/><rect x="442.4" y="566.0" width="1.9" height="412.0"/><rect x="444.0" y="585.0" width="3.3" height="393.0"/><rect x="447.0" y="570.0" width="3.3" height="408.0"/><rect x="450.0" y="570.0" width="4.3" height="381.0"/><rect x="454.0" y="566.0" width="1.3" height="385.0"/><rect x="455.0" y="566.0" width="7.7" height="445.0"/><rect x="467.0" y="566.0" width="7.7" height="345.0"/><rect x="485.6" y="566.0" width="3.7" height="343.0"/><rect x="489.0" y="566.0" width="8.3" height="445.0"/><rect x="497.0" y="566.0" width="4.3" height="224.0"/><rect x="504.0" y="664.6" width="7.3" height="349.4"/><rect x="532.4" y="566.0" width="4.9" height="180.0"/><rect x="537.0" y="566.0" width="2.3" height="320.0"/><rect x="539.0" y="566.0" width="7.3" height="448.0"/><rect x="563.0" y="566.0" width="7.7" height="445.0"/><rect x="570.4" y="566.0" width="4.9" height="273.0"/><rect x="575.0" y="566.0" width="2.9" height="286.0"/><rect x="577.6" y="566.0" width="5.7" height="448.0"/><rect x="583.0" y="682.6" width="8.3" height="331.4"/><rect x="591.0" y="682.6" width="1.3" height="232.4"/><rect x="592.0" y="566.0" width="7.3" height="349.0"/><rect x="610.0" y="607.4" width="8.3" height="358.6"/><rect x="626.4" y="603.4" width="5.9" height="372.6"/><rect x="663.2" y="599.0" width="2.1" height="375.0"/><rect x="665.0" y="587.0" width="6.3" height="387.0"/><rect x="730.8" y="597.0" width="7.9" height="385.4"/><rect x="749.0" y="605.4" width="7.3" height="372.6"/><rect x="759.0" y="599.4" width="7.9" height="380.6"/><rect x="779.4" y="593.0" width="7.9" height="389.4"/><rect x="802.0" y="597.4" width="7.9" height="239.6"/><rect x="818.4" y="599.4" width="7.9" height="383.0"/><rect x="845.0" y="579.0" width="7.9" height="430.0"/><rect x="857.4" y="566.0" width="5.3" height="377.6"/><rect x="871.4" y="683.0" width="7.9" height="331.0"/><rect x="884.0" y="570.6" width="4.3" height="331.4"/><rect x="888.0" y="570.6" width="3.9" height="443.4"/><rect x="891.6" y="693.0" width="4.0" height="321.0"/><rect x="906.4" y="566.0" width="7.5" height="448.0"/><rect x="918.6" y="566.0" width="7.3" height="448.0"/><rect x="931.0" y="566.0" width="5.9" height="448.0"/><rect x="945.0" y="566.0" width="7.7" height="273.0"/><rect x="957.2" y="566.0" width="5.5" height="252.6"/><rect x="962.4" y="566.0" width="8.3" height="236.4"/><rect x="975.6" y="566.0" width="8.7" height="222.0"/><rect x="984.0" y="566.0" width="7.3" height="240.0"/><rect x="991.0" y="578.6" width="1.3" height="227.4"/><rect x="984.0" y="866.4" width="8.3" height="147.6"/><rect x="992.0" y="578.6" width="5.3" height="435.4"/><rect x="997.0" y="744.0" width="3.3" height="270.0"/><rect x="1000.0" y="726.0" width="6.7" height="288.0"/><rect x="1006.4" y="566.0" width="7.5" height="448.0"/><rect x="1016.6" y="566.0" width="7.7" height="448.0"/><rect x="1024.0" y="717.0" width="6.3" height="297.0"/><rect x="1030.0" y="724.0" width="8.3" height="290.0"/><rect x="1038.0" y="734.0" width="9.3" height="280.0"/><rect x="1039.0" y="566.0" width="8.3" height="124.0"/><rect x="1047.0" y="566.0" width="16.3" height="448.0"/><rect x="1066.0" y="685.0" width="2.3" height="329.0"/><rect x="1068.0" y="566.0" width="5.3" height="448.0"/><rect x="1082.0" y="585.0" width="7.9" height="378.6"/><rect x="1089.6" y="595.0" width="8.3" height="399.4"/><rect x="1102.4" y="624.0" width="7.9" height="360.0"/><rect x="1116.4" y="603.4" width="7.9" height="362.6"/><rect x="1137.0" y="595.4" width="7.9" height="380.6"/><rect x="1147.4" y="611.6" width="7.9" height="368.4"/><rect x="1171.6" y="566.0" width="7.7" height="379.0"/><rect x="1182.0" y="636.0" width="8.3" height="378.0"/><rect x="1190.0" y="566.0" width="7.9" height="448.0"/><rect x="1197.6" y="566.0" width="8.7" height="322.4"/><rect x="1210.4" y="566.0" width="5.9" height="310.0"/><rect x="1224.6" y="695.0" width="8.1" height="319.0"/><rect x="1237.0" y="566.0" width="6.3" height="448.0"/><rect x="1243.0" y="566.0" width="4.3" height="351.0"/><rect x="1247.0" y="566.0" width="4.3" height="317.6"/><rect x="1255.4" y="621.6" width="4.5" height="388.8"/><rect x="1259.6" y="566.0" width="3.7" height="444.4"/><rect x="1263.0" y="566.0" width="4.7" height="298.0"/><rect x="1275.6" y="566.0" width="6.1" height="448.0"/><rect x="1281.4" y="566.0" width="7.9" height="397.6"/><rect x="1289.0" y="566.0" width="4.9" height="306.0"/><rect x="1293.6" y="566.0" width="15.1" height="273.0"/><rect x="1308.4" y="566.0" width="8.3" height="385.4"/></g>
<rect x="493" y="689" width="8.5" height="26" fill="#f2545b"/>
<rect x="730.8" y="689" width="7.6" height="26" fill="#f2545b"/>
<rect x="1310.5" y="689" width="5.9" height="26" fill="#f2545b"/>
<defs><clipPath id="ce"><rect x="1300" y="680" width="45.5" height="40"/></clipPath></defs>
<text transform="translate(730.50,710.50) scale(1.0,1)" font-size="24" fill="#ea5a62" stroke="#ea5a62" stroke-width="0.2" text-anchor="end" >(d)</text>
<g clip-path="url(#ce)">
<text transform="translate(1316.50,710.50) scale(1.0,1)" font-size="24" fill="#ea5a62" stroke="#ea5a62" stroke-width="0.2" text-anchor="start" >(e)</text>
</g>
<line x1="147.30" y1="92.20" x2="147.30" y2="1014.40" stroke="#000" stroke-width="1.9" stroke-dasharray="7.5 3.5"/>
<line x1="598.30" y1="92.20" x2="598.30" y2="1014.40" stroke="#000" stroke-width="1.9" stroke-dasharray="7.5 3.5"/>
<line x1="1286.60" y1="92.20" x2="1286.60" y2="1014.40" stroke="#000" stroke-width="1.9" stroke-dasharray="7.5 3.5"/>
<line x1="1317.00" y1="92.20" x2="1317.00" y2="536.20" stroke="#000" stroke-width="1.9" stroke-dasharray="7.5 3.5"/>
<rect x="104.3" y="87.2" width="1235.5" height="449.00000000000006" fill="none" stroke="#000" stroke-width="2"/>
<rect x="104.3" y="565.2" width="1235.5" height="449.19999999999993" fill="none" stroke="#000" stroke-width="2"/>
<line x1="94.80" y1="536.20" x2="104.30" y2="536.20" stroke="#000" stroke-width="1.9" />
<text transform="translate(86.80,544.10) scale(1.0,1)" font-size="22" fill="#111" stroke="#111" stroke-width="0.55" text-anchor="end" letter-spacing="-0.4">−30</text>
<line x1="99.30" y1="521.23" x2="104.30" y2="521.23" stroke="#000" stroke-width="1.9" />
<line x1="99.30" y1="506.27" x2="104.30" y2="506.27" stroke="#000" stroke-width="1.9" />
<line x1="99.30" y1="491.30" x2="104.30" y2="491.30" stroke="#000" stroke-width="1.9" />
<line x1="99.30" y1="476.33" x2="104.30" y2="476.33" stroke="#000" stroke-width="1.9" />
<line x1="94.80" y1="461.37" x2="104.30" y2="461.37" stroke="#000" stroke-width="1.9" />
<text transform="translate(86.80,469.27) scale(1.0,1)" font-size="22" fill="#111" stroke="#111" stroke-width="0.55" text-anchor="end" letter-spacing="-0.4">−20</text>
<line x1="99.30" y1="446.40" x2="104.30" y2="446.40" stroke="#000" stroke-width="1.9" />
<line x1="99.30" y1="431.43" x2="104.30" y2="431.43" stroke="#000" stroke-width="1.9" />
<line x1="99.30" y1="416.47" x2="104.30" y2="416.47" stroke="#000" stroke-width="1.9" />
<line x1="99.30" y1="401.50" x2="104.30" y2="401.50" stroke="#000" stroke-width="1.9" />
<line x1="94.80" y1="386.53" x2="104.30" y2="386.53" stroke="#000" stroke-width="1.9" />
<text transform="translate(86.80,394.43) scale(1.0,1)" font-size="22" fill="#111" stroke="#111" stroke-width="0.55" text-anchor="end" letter-spacing="-0.4">−10</text>
<line x1="99.30" y1="371.57" x2="104.30" y2="371.57" stroke="#000" stroke-width="1.9" />
<line x1="99.30" y1="356.60" x2="104.30" y2="356.60" stroke="#000" stroke-width="1.9" />
<line x1="99.30" y1="341.63" x2="104.30" y2="341.63" stroke="#000" stroke-width="1.9" />
<line x1="99.30" y1="326.67" x2="104.30" y2="326.67" stroke="#000" stroke-width="1.9" />
<line x1="94.80" y1="311.70" x2="104.30" y2="311.70" stroke="#000" stroke-width="1.9" />
<text transform="translate(86.80,319.60) scale(1.0,1)" font-size="22" fill="#111" stroke="#111" stroke-width="0.55" text-anchor="end" letter-spacing="-0.4">0</text>
<line x1="99.30" y1="296.73" x2="104.30" y2="296.73" stroke="#000" stroke-width="1.9" />
<line x1="99.30" y1="281.77" x2="104.30" y2="281.77" stroke="#000" stroke-width="1.9" />
<line x1="99.30" y1="266.80" x2="104.30" y2="266.80" stroke="#000" stroke-width="1.9" />
<line x1="99.30" y1="251.83" x2="104.30" y2="251.83" stroke="#000" stroke-width="1.9" />
<line x1="94.80" y1="236.87" x2="104.30" y2="236.87" stroke="#000" stroke-width="1.9" />
<text transform="translate(86.80,244.77) scale(1.0,1)" font-size="22" fill="#111" stroke="#111" stroke-width="0.55" text-anchor="end" letter-spacing="-0.4">10</text>
<line x1="99.30" y1="221.90" x2="104.30" y2="221.90" stroke="#000" stroke-width="1.9" />
<line x1="99.30" y1="206.93" x2="104.30" y2="206.93" stroke="#000" stroke-width="1.9" />
<line x1="99.30" y1="191.97" x2="104.30" y2="191.97" stroke="#000" stroke-width="1.9" />
<line x1="99.30" y1="177.00" x2="104.30" y2="177.00" stroke="#000" stroke-width="1.9" />
<line x1="94.80" y1="162.03" x2="104.30" y2="162.03" stroke="#000" stroke-width="1.9" />
<text transform="translate(86.80,169.93) scale(1.0,1)" font-size="22" fill="#111" stroke="#111" stroke-width="0.55" text-anchor="end" letter-spacing="-0.4">20</text>
<line x1="99.30" y1="147.07" x2="104.30" y2="147.07" stroke="#000" stroke-width="1.9" />
<line x1="99.30" y1="132.10" x2="104.30" y2="132.10" stroke="#000" stroke-width="1.9" />
<line x1="99.30" y1="117.13" x2="104.30" y2="117.13" stroke="#000" stroke-width="1.9" />
<line x1="99.30" y1="102.17" x2="104.30" y2="102.17" stroke="#000" stroke-width="1.9" />
<line x1="94.80" y1="87.20" x2="104.30" y2="87.20" stroke="#000" stroke-width="1.9" />
<text transform="translate(86.80,95.10) scale(1.0,1)" font-size="22" fill="#111" stroke="#111" stroke-width="0.55" text-anchor="end" letter-spacing="-0.4">30</text>
<line x1="1339.80" y1="87.20" x2="1339.80" y2="536.20" stroke="#666" stroke-width="2" />
<line x1="1339.80" y1="536.20" x2="1349.30" y2="536.20" stroke="#8a8a8a" stroke-width="1.9" />
<text transform="translate(1394.80,544.10) scale(1.0,1)" font-size="22" fill="#888b91" stroke="#888b91" stroke-width="0.4" text-anchor="end" >−80</text>
<line x1="1339.80" y1="530.59" x2="1344.80" y2="530.59" stroke="#8a8a8a" stroke-width="1.3" />
<line x1="1339.80" y1="524.98" x2="1344.80" y2="524.98" stroke="#8a8a8a" stroke-width="1.3" />
<line x1="1339.80" y1="519.36" x2="1344.80" y2="519.36" stroke="#8a8a8a" stroke-width="1.3" />
<line x1="1339.80" y1="513.75" x2="1344.80" y2="513.75" stroke="#8a8a8a" stroke-width="1.3" />
<line x1="1339.80" y1="508.14" x2="1349.30" y2="508.14" stroke="#8a8a8a" stroke-width="1.9" />
<text transform="translate(1394.80,516.04) scale(1.0,1)" font-size="22" fill="#888b91" stroke="#888b91" stroke-width="0.4" text-anchor="end" >−70</text>
<line x1="1339.80" y1="502.53" x2="1344.80" y2="502.53" stroke="#8a8a8a" stroke-width="1.3" />
<line x1="1339.80" y1="496.91" x2="1344.80" y2="496.91" stroke="#8a8a8a" stroke-width="1.3" />
<line x1="1339.80" y1="491.30" x2="1344.80" y2="491.30" stroke="#8a8a8a" stroke-width="1.3" />
<line x1="1339.80" y1="485.69" x2="1344.80" y2="485.69" stroke="#8a8a8a" stroke-width="1.3" />
<line x1="1339.80" y1="480.08" x2="1349.30" y2="480.08" stroke="#8a8a8a" stroke-width="1.9" />
<text transform="translate(1394.80,487.98) scale(1.0,1)" font-size="22" fill="#888b91" stroke="#888b91" stroke-width="0.4" text-anchor="end" >−60</text>
<line x1="1339.80" y1="474.46" x2="1344.80" y2="474.46" stroke="#8a8a8a" stroke-width="1.3" />
<line x1="1339.80" y1="468.85" x2="1344.80" y2="468.85" stroke="#8a8a8a" stroke-width="1.3" />
<line x1="1339.80" y1="463.24" x2="1344.80" y2="463.24" stroke="#8a8a8a" stroke-width="1.3" />
<line x1="1339.80" y1="457.63" x2="1344.80" y2="457.63" stroke="#8a8a8a" stroke-width="1.3" />
<line x1="1339.80" y1="452.01" x2="1349.30" y2="452.01" stroke="#8a8a8a" stroke-width="1.9" />
<text transform="translate(1394.80,459.91) scale(1.0,1)" font-size="22" fill="#888b91" stroke="#888b91" stroke-width="0.4" text-anchor="end" >−50</text>
<line x1="1339.80" y1="446.40" x2="1344.80" y2="446.40" stroke="#8a8a8a" stroke-width="1.3" />
<line x1="1339.80" y1="440.79" x2="1344.80" y2="440.79" stroke="#8a8a8a" stroke-width="1.3" />
<line x1="1339.80" y1="435.18" x2="1344.80" y2="435.18" stroke="#8a8a8a" stroke-width="1.3" />
<line x1="1339.80" y1="429.56" x2="1344.80" y2="429.56" stroke="#8a8a8a" stroke-width="1.3" />
<line x1="1339.80" y1="423.95" x2="1349.30" y2="423.95" stroke="#8a8a8a" stroke-width="1.9" />
<text transform="translate(1394.80,431.85) scale(1.0,1)" font-size="22" fill="#888b91" stroke="#888b91" stroke-width="0.4" text-anchor="end" >−40</text>
<line x1="1339.80" y1="418.34" x2="1344.80" y2="418.34" stroke="#8a8a8a" stroke-width="1.3" />
<line x1="1339.80" y1="412.73" x2="1344.80" y2="412.73" stroke="#8a8a8a" stroke-width="1.3" />
<line x1="1339.80" y1="407.11" x2="1344.80" y2="407.11" stroke="#8a8a8a" stroke-width="1.3" />
<line x1="1339.80" y1="401.50" x2="1344.80" y2="401.50" stroke="#8a8a8a" stroke-width="1.3" />
<line x1="1339.80" y1="395.89" x2="1349.30" y2="395.89" stroke="#8a8a8a" stroke-width="1.9" />
<text transform="translate(1394.80,403.79) scale(1.0,1)" font-size="22" fill="#888b91" stroke="#888b91" stroke-width="0.4" text-anchor="end" >−30</text>
<line x1="1339.80" y1="390.28" x2="1344.80" y2="390.28" stroke="#8a8a8a" stroke-width="1.3" />
<line x1="1339.80" y1="384.66" x2="1344.80" y2="384.66" stroke="#8a8a8a" stroke-width="1.3" />
<line x1="1339.80" y1="379.05" x2="1344.80" y2="379.05" stroke="#8a8a8a" stroke-width="1.3" />
<line x1="1339.80" y1="373.44" x2="1344.80" y2="373.44" stroke="#8a8a8a" stroke-width="1.3" />
<line x1="1339.80" y1="367.83" x2="1349.30" y2="367.83" stroke="#8a8a8a" stroke-width="1.9" />
<text transform="translate(1394.80,375.73) scale(1.0,1)" font-size="22" fill="#888b91" stroke="#888b91" stroke-width="0.4" text-anchor="end" >−20</text>
<line x1="1339.80" y1="362.21" x2="1344.80" y2="362.21" stroke="#8a8a8a" stroke-width="1.3" />
<line x1="1339.80" y1="356.60" x2="1344.80" y2="356.60" stroke="#8a8a8a" stroke-width="1.3" />
<line x1="1339.80" y1="350.99" x2="1344.80" y2="350.99" stroke="#8a8a8a" stroke-width="1.3" />
<line x1="1339.80" y1="345.38" x2="1344.80" y2="345.38" stroke="#8a8a8a" stroke-width="1.3" />
<line x1="1339.80" y1="339.76" x2="1349.30" y2="339.76" stroke="#8a8a8a" stroke-width="1.9" />
<text transform="translate(1394.80,347.66) scale(1.0,1)" font-size="22" fill="#888b91" stroke="#888b91" stroke-width="0.4" text-anchor="end" >−10</text>
<line x1="1339.80" y1="334.15" x2="1344.80" y2="334.15" stroke="#8a8a8a" stroke-width="1.3" />
<line x1="1339.80" y1="328.54" x2="1344.80" y2="328.54" stroke="#8a8a8a" stroke-width="1.3" />
<line x1="1339.80" y1="322.93" x2="1344.80" y2="322.93" stroke="#8a8a8a" stroke-width="1.3" />
<line x1="1339.80" y1="317.31" x2="1344.80" y2="317.31" stroke="#8a8a8a" stroke-width="1.3" />
<line x1="1339.80" y1="311.70" x2="1349.30" y2="311.70" stroke="#8a8a8a" stroke-width="1.9" />
<text transform="translate(1394.80,319.60) scale(1.0,1)" font-size="22" fill="#888b91" stroke="#888b91" stroke-width="0.4" text-anchor="end" >0</text>
<line x1="1339.80" y1="306.09" x2="1344.80" y2="306.09" stroke="#8a8a8a" stroke-width="1.3" />
<line x1="1339.80" y1="300.48" x2="1344.80" y2="300.48" stroke="#8a8a8a" stroke-width="1.3" />
<line x1="1339.80" y1="294.86" x2="1344.80" y2="294.86" stroke="#8a8a8a" stroke-width="1.3" />
<line x1="1339.80" y1="289.25" x2="1344.80" y2="289.25" stroke="#8a8a8a" stroke-width="1.3" />
<line x1="1339.80" y1="283.64" x2="1349.30" y2="283.64" stroke="#8a8a8a" stroke-width="1.9" />
<text transform="translate(1394.80,291.54) scale(1.0,1)" font-size="22" fill="#888b91" stroke="#888b91" stroke-width="0.4" text-anchor="end" >10</text>
<line x1="1339.80" y1="278.03" x2="1344.80" y2="278.03" stroke="#8a8a8a" stroke-width="1.3" />
<line x1="1339.80" y1="272.41" x2="1344.80" y2="272.41" stroke="#8a8a8a" stroke-width="1.3" />
<line x1="1339.80" y1="266.80" x2="1344.80" y2="266.80" stroke="#8a8a8a" stroke-width="1.3" />
<line x1="1339.80" y1="261.19" x2="1344.80" y2="261.19" stroke="#8a8a8a" stroke-width="1.3" />
<line x1="1339.80" y1="255.58" x2="1349.30" y2="255.58" stroke="#8a8a8a" stroke-width="1.9" />
<text transform="translate(1394.80,263.48) scale(1.0,1)" font-size="22" fill="#888b91" stroke="#888b91" stroke-width="0.4" text-anchor="end" >20</text>
<line x1="1339.80" y1="249.96" x2="1344.80" y2="249.96" stroke="#8a8a8a" stroke-width="1.3" />
<line x1="1339.80" y1="244.35" x2="1344.80" y2="244.35" stroke="#8a8a8a" stroke-width="1.3" />
<line x1="1339.80" y1="238.74" x2="1344.80" y2="238.74" stroke="#8a8a8a" stroke-width="1.3" />
<line x1="1339.80" y1="233.12" x2="1344.80" y2="233.12" stroke="#8a8a8a" stroke-width="1.3" />
<line x1="1339.80" y1="227.51" x2="1349.30" y2="227.51" stroke="#8a8a8a" stroke-width="1.9" />
<text transform="translate(1394.80,235.41) scale(1.0,1)" font-size="22" fill="#888b91" stroke="#888b91" stroke-width="0.4" text-anchor="end" >30</text>
<line x1="1339.80" y1="221.90" x2="1344.80" y2="221.90" stroke="#8a8a8a" stroke-width="1.3" />
<line x1="1339.80" y1="216.29" x2="1344.80" y2="216.29" stroke="#8a8a8a" stroke-width="1.3" />
<line x1="1339.80" y1="210.68" x2="1344.80" y2="210.68" stroke="#8a8a8a" stroke-width="1.3" />
<line x1="1339.80" y1="205.06" x2="1344.80" y2="205.06" stroke="#8a8a8a" stroke-width="1.3" />
<line x1="1339.80" y1="199.45" x2="1349.30" y2="199.45" stroke="#8a8a8a" stroke-width="1.9" />
<text transform="translate(1394.80,207.35) scale(1.0,1)" font-size="22" fill="#888b91" stroke="#888b91" stroke-width="0.4" text-anchor="end" >40</text>
<line x1="1339.80" y1="193.84" x2="1344.80" y2="193.84" stroke="#8a8a8a" stroke-width="1.3" />
<line x1="1339.80" y1="188.23" x2="1344.80" y2="188.23" stroke="#8a8a8a" stroke-width="1.3" />
<line x1="1339.80" y1="182.61" x2="1344.80" y2="182.61" stroke="#8a8a8a" stroke-width="1.3" />
<line x1="1339.80" y1="177.00" x2="1344.80" y2="177.00" stroke="#8a8a8a" stroke-width="1.3" />
<line x1="1339.80" y1="171.39" x2="1349.30" y2="171.39" stroke="#8a8a8a" stroke-width="1.9" />
<text transform="translate(1394.80,179.29) scale(1.0,1)" font-size="22" fill="#888b91" stroke="#888b91" stroke-width="0.4" text-anchor="end" >50</text>
<line x1="1339.80" y1="165.78" x2="1344.80" y2="165.78" stroke="#8a8a8a" stroke-width="1.3" />
<line x1="1339.80" y1="160.16" x2="1344.80" y2="160.16" stroke="#8a8a8a" stroke-width="1.3" />
<line x1="1339.80" y1="154.55" x2="1344.80" y2="154.55" stroke="#8a8a8a" stroke-width="1.3" />
<line x1="1339.80" y1="148.94" x2="1344.80" y2="148.94" stroke="#8a8a8a" stroke-width="1.3" />
<line x1="1339.80" y1="143.33" x2="1349.30" y2="143.33" stroke="#8a8a8a" stroke-width="1.9" />
<text transform="translate(1394.80,151.23) scale(1.0,1)" font-size="22" fill="#888b91" stroke="#888b91" stroke-width="0.4" text-anchor="end" >60</text>
<line x1="1339.80" y1="137.71" x2="1344.80" y2="137.71" stroke="#8a8a8a" stroke-width="1.3" />
<line x1="1339.80" y1="132.10" x2="1344.80" y2="132.10" stroke="#8a8a8a" stroke-width="1.3" />
<line x1="1339.80" y1="126.49" x2="1344.80" y2="126.49" stroke="#8a8a8a" stroke-width="1.3" />
<line x1="1339.80" y1="120.88" x2="1344.80" y2="120.88" stroke="#8a8a8a" stroke-width="1.3" />
<line x1="1339.80" y1="115.26" x2="1349.30" y2="115.26" stroke="#8a8a8a" stroke-width="1.9" />
<text transform="translate(1394.80,123.16) scale(1.0,1)" font-size="22" fill="#888b91" stroke="#888b91" stroke-width="0.4" text-anchor="end" >70</text>
<line x1="1339.80" y1="109.65" x2="1344.80" y2="109.65" stroke="#8a8a8a" stroke-width="1.3" />
<line x1="1339.80" y1="104.04" x2="1344.80" y2="104.04" stroke="#8a8a8a" stroke-width="1.3" />
<line x1="1339.80" y1="98.43" x2="1344.80" y2="98.43" stroke="#8a8a8a" stroke-width="1.3" />
<line x1="1339.80" y1="92.81" x2="1344.80" y2="92.81" stroke="#8a8a8a" stroke-width="1.3" />
<line x1="1339.80" y1="87.20" x2="1349.30" y2="87.20" stroke="#8a8a8a" stroke-width="1.9" />
<text transform="translate(1394.80,95.10) scale(1.0,1)" font-size="22" fill="#888b91" stroke="#888b91" stroke-width="0.4" text-anchor="end" >80</text>
<line x1="1480.50" y1="86.40" x2="1480.50" y2="537.00" stroke="#a31f34" stroke-width="1.7" />
<line x1="1480.50" y1="536.20" x2="1490.50" y2="536.20" stroke="#a31f34" stroke-width="1.9" />
<text transform="translate(1540.00,544.10) scale(1.0,1)" font-size="22" fill="#ac2238" stroke="#ac2238" stroke-width="0.35" text-anchor="end" >9.0</text>
<line x1="1480.50" y1="495.38" x2="1485.50" y2="495.38" stroke="#a31f34" stroke-width="1.9" />
<line x1="1480.50" y1="454.56" x2="1490.50" y2="454.56" stroke="#a31f34" stroke-width="1.9" />
<text transform="translate(1540.00,462.46) scale(1.0,1)" font-size="22" fill="#ac2238" stroke="#ac2238" stroke-width="0.35" text-anchor="end" >9.2</text>
<line x1="1480.50" y1="413.75" x2="1485.50" y2="413.75" stroke="#a31f34" stroke-width="1.9" />
<line x1="1480.50" y1="372.93" x2="1490.50" y2="372.93" stroke="#a31f34" stroke-width="1.9" />
<text transform="translate(1540.00,380.83) scale(1.0,1)" font-size="22" fill="#ac2238" stroke="#ac2238" stroke-width="0.35" text-anchor="end" >9.4</text>
<line x1="1480.50" y1="332.11" x2="1485.50" y2="332.11" stroke="#a31f34" stroke-width="1.9" />
<line x1="1480.50" y1="291.29" x2="1490.50" y2="291.29" stroke="#a31f34" stroke-width="1.9" />
<text transform="translate(1540.00,299.19) scale(1.0,1)" font-size="22" fill="#ac2238" stroke="#ac2238" stroke-width="0.35" text-anchor="end" >9.6</text>
<line x1="1480.50" y1="250.47" x2="1485.50" y2="250.47" stroke="#a31f34" stroke-width="1.9" />
<line x1="1480.50" y1="209.65" x2="1490.50" y2="209.65" stroke="#a31f34" stroke-width="1.9" />
<text transform="translate(1540.00,217.55) scale(1.0,1)" font-size="22" fill="#ac2238" stroke="#ac2238" stroke-width="0.35" text-anchor="end" >9.8</text>
<line x1="1480.50" y1="168.84" x2="1485.50" y2="168.84" stroke="#a31f34" stroke-width="1.9" />
<line x1="1480.50" y1="128.02" x2="1490.50" y2="128.02" stroke="#a31f34" stroke-width="1.9" />
<text transform="translate(1540.00,135.92) scale(1.0,1)" font-size="22" fill="#ac2238" stroke="#ac2238" stroke-width="0.35" text-anchor="end" >10.0</text>
<line x1="1480.50" y1="87.20" x2="1485.50" y2="87.20" stroke="#a31f34" stroke-width="1.9" />
<line x1="128.50" y1="73.70" x2="128.50" y2="87.20" stroke="#000" stroke-width="1.9" />
<line x1="128.50" y1="556.20" x2="128.50" y2="565.20" stroke="#000" stroke-width="1.9" />
<text transform="translate(107.35,73.80) scale(1.0,1)" font-size="22" fill="#111" stroke="#111" stroke-width="0.55" text-anchor="start" >290<tspan font-size="11.5" dy="-13.2" dx="1.2" stroke-width="1.5">°</tspan></text>
<line x1="194.00" y1="73.70" x2="194.00" y2="87.20" stroke="#000" stroke-width="1.9" />
<line x1="194.00" y1="556.20" x2="194.00" y2="565.20" stroke="#000" stroke-width="1.9" />
<text transform="translate(172.85,73.80) scale(1.0,1)" font-size="22" fill="#111" stroke="#111" stroke-width="0.55" text-anchor="start" >300<tspan font-size="11.5" dy="-13.2" dx="1.2" stroke-width="1.5">°</tspan></text>
<line x1="259.70" y1="73.70" x2="259.70" y2="87.20" stroke="#000" stroke-width="1.9" />
<line x1="259.70" y1="556.20" x2="259.70" y2="565.20" stroke="#000" stroke-width="1.9" />
<text transform="translate(238.55,73.80) scale(1.0,1)" font-size="22" fill="#111" stroke="#111" stroke-width="0.55" text-anchor="start" >310<tspan font-size="11.5" dy="-13.2" dx="1.2" stroke-width="1.5">°</tspan></text>
<line x1="324.70" y1="73.70" x2="324.70" y2="87.20" stroke="#000" stroke-width="1.9" />
<line x1="324.70" y1="556.20" x2="324.70" y2="565.20" stroke="#000" stroke-width="1.9" />
<text transform="translate(303.55,73.80) scale(1.0,1)" font-size="22" fill="#111" stroke="#111" stroke-width="0.55" text-anchor="start" >320<tspan font-size="11.5" dy="-13.2" dx="1.2" stroke-width="1.5">°</tspan></text>
<line x1="392.60" y1="73.70" x2="392.60" y2="87.20" stroke="#000" stroke-width="1.9" />
<line x1="392.60" y1="556.20" x2="392.60" y2="565.20" stroke="#000" stroke-width="1.9" />
<text transform="translate(371.45,73.80) scale(1.0,1)" font-size="22" fill="#111" stroke="#111" stroke-width="0.55" text-anchor="start" >330<tspan font-size="11.5" dy="-13.2" dx="1.2" stroke-width="1.5">°</tspan></text>
<line x1="459.90" y1="73.70" x2="459.90" y2="87.20" stroke="#000" stroke-width="1.9" />
<line x1="459.90" y1="556.20" x2="459.90" y2="565.20" stroke="#000" stroke-width="1.9" />
<text transform="translate(438.75,73.80) scale(1.0,1)" font-size="22" fill="#111" stroke="#111" stroke-width="0.55" text-anchor="start" >340<tspan font-size="11.5" dy="-13.2" dx="1.2" stroke-width="1.5">°</tspan></text>
<line x1="528.70" y1="73.70" x2="528.70" y2="87.20" stroke="#000" stroke-width="1.9" />
<line x1="528.70" y1="556.20" x2="528.70" y2="565.20" stroke="#000" stroke-width="1.9" />
<text transform="translate(507.55,73.80) scale(1.0,1)" font-size="22" fill="#111" stroke="#111" stroke-width="0.55" text-anchor="start" >350<tspan font-size="11.5" dy="-13.2" dx="1.2" stroke-width="1.5">°</tspan></text>
<line x1="598.30" y1="73.70" x2="598.30" y2="87.20" stroke="#000" stroke-width="1.9" />
<line x1="598.30" y1="556.20" x2="598.30" y2="565.20" stroke="#000" stroke-width="1.9" />
<text transform="translate(589.38,73.80) scale(1.0,1)" font-size="22" fill="#111" stroke="#111" stroke-width="0.55" text-anchor="start" >0<tspan font-size="11.5" dy="-13.2" dx="1.2" stroke-width="1.5">°</tspan></text>
<line x1="669.80" y1="73.70" x2="669.80" y2="87.20" stroke="#000" stroke-width="1.9" />
<line x1="669.80" y1="556.20" x2="669.80" y2="565.20" stroke="#000" stroke-width="1.9" />
<text transform="translate(654.77,73.80) scale(1.0,1)" font-size="22" fill="#111" stroke="#111" stroke-width="0.55" text-anchor="start" >10<tspan font-size="11.5" dy="-13.2" dx="1.2" stroke-width="1.5">°</tspan></text>
<line x1="743.30" y1="73.70" x2="743.30" y2="87.20" stroke="#000" stroke-width="1.9" />
<line x1="743.30" y1="556.20" x2="743.30" y2="565.20" stroke="#000" stroke-width="1.9" />
<text transform="translate(728.27,73.80) scale(1.0,1)" font-size="22" fill="#111" stroke="#111" stroke-width="0.55" text-anchor="start" >20<tspan font-size="11.5" dy="-13.2" dx="1.2" stroke-width="1.5">°</tspan></text>
<line x1="816.80" y1="73.70" x2="816.80" y2="87.20" stroke="#000" stroke-width="1.9" />
<line x1="816.80" y1="556.20" x2="816.80" y2="565.20" stroke="#000" stroke-width="1.9" />
<text transform="translate(801.77,73.80) scale(1.0,1)" font-size="22" fill="#111" stroke="#111" stroke-width="0.55" text-anchor="start" >30<tspan font-size="11.5" dy="-13.2" dx="1.2" stroke-width="1.5">°</tspan></text>
<line x1="892.60" y1="73.70" x2="892.60" y2="87.20" stroke="#000" stroke-width="1.9" />
<line x1="892.60" y1="556.20" x2="892.60" y2="565.20" stroke="#000" stroke-width="1.9" />
<text transform="translate(877.57,73.80) scale(1.0,1)" font-size="22" fill="#111" stroke="#111" stroke-width="0.55" text-anchor="start" >40<tspan font-size="11.5" dy="-13.2" dx="1.2" stroke-width="1.5">°</tspan></text>
<line x1="970.30" y1="73.70" x2="970.30" y2="87.20" stroke="#000" stroke-width="1.9" />
<line x1="970.30" y1="556.20" x2="970.30" y2="565.20" stroke="#000" stroke-width="1.9" />
<text transform="translate(955.27,73.80) scale(1.0,1)" font-size="22" fill="#111" stroke="#111" stroke-width="0.55" text-anchor="start" >50<tspan font-size="11.5" dy="-13.2" dx="1.2" stroke-width="1.5">°</tspan></text>
<line x1="1047.70" y1="73.70" x2="1047.70" y2="87.20" stroke="#000" stroke-width="1.9" />
<line x1="1047.70" y1="556.20" x2="1047.70" y2="565.20" stroke="#000" stroke-width="1.9" />
<text transform="translate(1032.67,73.80) scale(1.0,1)" font-size="22" fill="#111" stroke="#111" stroke-width="0.55" text-anchor="start" >60<tspan font-size="11.5" dy="-13.2" dx="1.2" stroke-width="1.5">°</tspan></text>
<line x1="1125.90" y1="73.70" x2="1125.90" y2="87.20" stroke="#000" stroke-width="1.9" />
<line x1="1125.90" y1="556.20" x2="1125.90" y2="565.20" stroke="#000" stroke-width="1.9" />
<text transform="translate(1110.87,73.80) scale(1.0,1)" font-size="22" fill="#111" stroke="#111" stroke-width="0.55" text-anchor="start" >70<tspan font-size="11.5" dy="-13.2" dx="1.2" stroke-width="1.5">°</tspan></text>
<line x1="1204.90" y1="73.70" x2="1204.90" y2="87.20" stroke="#000" stroke-width="1.9" />
<line x1="1204.90" y1="556.20" x2="1204.90" y2="565.20" stroke="#000" stroke-width="1.9" />
<text transform="translate(1189.87,73.80) scale(1.0,1)" font-size="22" fill="#111" stroke="#111" stroke-width="0.55" text-anchor="start" >80<tspan font-size="11.5" dy="-13.2" dx="1.2" stroke-width="1.5">°</tspan></text>
<line x1="1286.60" y1="73.70" x2="1286.60" y2="87.20" stroke="#000" stroke-width="1.9" />
<line x1="1286.60" y1="556.20" x2="1286.60" y2="565.20" stroke="#000" stroke-width="1.9" />
<text transform="translate(1271.57,73.80) scale(1.0,1)" font-size="22" fill="#111" stroke="#111" stroke-width="0.55" text-anchor="start" >90<tspan font-size="11.5" dy="-13.2" dx="1.2" stroke-width="1.5">°</tspan></text>
<line x1="104.30" y1="536.20" x2="104.30" y2="544.70" stroke="#000" stroke-width="1.9" />
<line x1="104.30" y1="1014.40" x2="104.30" y2="1022.90" stroke="#000" stroke-width="1.9" />
<text transform="translate(104.30,1047.50) scale(1.0,1)" font-size="22" fill="#111" stroke="#111" stroke-width="0.55" text-anchor="middle" >2004</text>
<line x1="126.36" y1="536.20" x2="126.36" y2="540.70" stroke="#000" stroke-width="1.9" />
<line x1="126.36" y1="1014.40" x2="126.36" y2="1018.90" stroke="#000" stroke-width="1.9" />
<line x1="148.43" y1="536.20" x2="148.43" y2="540.70" stroke="#000" stroke-width="1.9" />
<line x1="148.43" y1="1014.40" x2="148.43" y2="1018.90" stroke="#000" stroke-width="1.9" />
<line x1="170.49" y1="536.20" x2="170.49" y2="540.70" stroke="#000" stroke-width="1.9" />
<line x1="170.49" y1="1014.40" x2="170.49" y2="1018.90" stroke="#000" stroke-width="1.9" />
<line x1="192.55" y1="536.20" x2="192.55" y2="544.70" stroke="#000" stroke-width="1.9" />
<line x1="192.55" y1="1014.40" x2="192.55" y2="1022.90" stroke="#000" stroke-width="1.9" />
<text transform="translate(192.55,1047.50) scale(1.0,1)" font-size="22" fill="#111" stroke="#111" stroke-width="0.55" text-anchor="middle" >2005</text>
<line x1="214.61" y1="536.20" x2="214.61" y2="540.70" stroke="#000" stroke-width="1.9" />
<line x1="214.61" y1="1014.40" x2="214.61" y2="1018.90" stroke="#000" stroke-width="1.9" />
<line x1="236.68" y1="536.20" x2="236.68" y2="540.70" stroke="#000" stroke-width="1.9" />
<line x1="236.68" y1="1014.40" x2="236.68" y2="1018.90" stroke="#000" stroke-width="1.9" />
<line x1="258.74" y1="536.20" x2="258.74" y2="540.70" stroke="#000" stroke-width="1.9" />
<line x1="258.74" y1="1014.40" x2="258.74" y2="1018.90" stroke="#000" stroke-width="1.9" />
<line x1="280.80" y1="536.20" x2="280.80" y2="544.70" stroke="#000" stroke-width="1.9" />
<line x1="280.80" y1="1014.40" x2="280.80" y2="1022.90" stroke="#000" stroke-width="1.9" />
<text transform="translate(280.80,1047.50) scale(1.0,1)" font-size="22" fill="#111" stroke="#111" stroke-width="0.55" text-anchor="middle" >2006</text>
<line x1="302.86" y1="536.20" x2="302.86" y2="540.70" stroke="#000" stroke-width="1.9" />
<line x1="302.86" y1="1014.40" x2="302.86" y2="1018.90" stroke="#000" stroke-width="1.9" />
<line x1="324.93" y1="536.20" x2="324.93" y2="540.70" stroke="#000" stroke-width="1.9" />
<line x1="324.93" y1="1014.40" x2="324.93" y2="1018.90" stroke="#000" stroke-width="1.9" />
<line x1="346.99" y1="536.20" x2="346.99" y2="540.70" stroke="#000" stroke-width="1.9" />
<line x1="346.99" y1="1014.40" x2="346.99" y2="1018.90" stroke="#000" stroke-width="1.9" />
<line x1="369.05" y1="536.20" x2="369.05" y2="544.70" stroke="#000" stroke-width="1.9" />
<line x1="369.05" y1="1014.40" x2="369.05" y2="1022.90" stroke="#000" stroke-width="1.9" />
<text transform="translate(369.05,1047.50) scale(1.0,1)" font-size="22" fill="#111" stroke="#111" stroke-width="0.55" text-anchor="middle" >2007</text>
<line x1="391.11" y1="536.20" x2="391.11" y2="540.70" stroke="#000" stroke-width="1.9" />
<line x1="391.11" y1="1014.40" x2="391.11" y2="1018.90" stroke="#000" stroke-width="1.9" />
<line x1="413.18" y1="536.20" x2="413.18" y2="540.70" stroke="#000" stroke-width="1.9" />
<line x1="413.18" y1="1014.40" x2="413.18" y2="1018.90" stroke="#000" stroke-width="1.9" />
<line x1="435.24" y1="536.20" x2="435.24" y2="540.70" stroke="#000" stroke-width="1.9" />
<line x1="435.24" y1="1014.40" x2="435.24" y2="1018.90" stroke="#000" stroke-width="1.9" />
<line x1="457.30" y1="536.20" x2="457.30" y2="544.70" stroke="#000" stroke-width="1.9" />
<line x1="457.30" y1="1014.40" x2="457.30" y2="1022.90" stroke="#000" stroke-width="1.9" />
<text transform="translate(457.30,1047.50) scale(1.0,1)" font-size="22" fill="#111" stroke="#111" stroke-width="0.55" text-anchor="middle" >2008</text>
<line x1="479.36" y1="536.20" x2="479.36" y2="540.70" stroke="#000" stroke-width="1.9" />
<line x1="479.36" y1="1014.40" x2="479.36" y2="1018.90" stroke="#000" stroke-width="1.9" />
<line x1="501.43" y1="536.20" x2="501.43" y2="540.70" stroke="#000" stroke-width="1.9" />
<line x1="501.43" y1="1014.40" x2="501.43" y2="1018.90" stroke="#000" stroke-width="1.9" />
<line x1="523.49" y1="536.20" x2="523.49" y2="540.70" stroke="#000" stroke-width="1.9" />
<line x1="523.49" y1="1014.40" x2="523.49" y2="1018.90" stroke="#000" stroke-width="1.9" />
<line x1="545.55" y1="536.20" x2="545.55" y2="544.70" stroke="#000" stroke-width="1.9" />
<line x1="545.55" y1="1014.40" x2="545.55" y2="1022.90" stroke="#000" stroke-width="1.9" />
<text transform="translate(545.55,1047.50) scale(1.0,1)" font-size="22" fill="#111" stroke="#111" stroke-width="0.55" text-anchor="middle" >2009</text>
<line x1="567.61" y1="536.20" x2="567.61" y2="540.70" stroke="#000" stroke-width="1.9" />
<line x1="567.61" y1="1014.40" x2="567.61" y2="1018.90" stroke="#000" stroke-width="1.9" />
<line x1="589.67" y1="536.20" x2="589.67" y2="540.70" stroke="#000" stroke-width="1.9" />
<line x1="589.67" y1="1014.40" x2="589.67" y2="1018.90" stroke="#000" stroke-width="1.9" />
<line x1="611.74" y1="536.20" x2="611.74" y2="540.70" stroke="#000" stroke-width="1.9" />
<line x1="611.74" y1="1014.40" x2="611.74" y2="1018.90" stroke="#000" stroke-width="1.9" />
<line x1="633.80" y1="536.20" x2="633.80" y2="544.70" stroke="#000" stroke-width="1.9" />
<line x1="633.80" y1="1014.40" x2="633.80" y2="1022.90" stroke="#000" stroke-width="1.9" />
<text transform="translate(633.80,1047.50) scale(1.0,1)" font-size="22" fill="#111" stroke="#111" stroke-width="0.55" text-anchor="middle" >2010</text>
<line x1="655.86" y1="536.20" x2="655.86" y2="540.70" stroke="#000" stroke-width="1.9" />
<line x1="655.86" y1="1014.40" x2="655.86" y2="1018.90" stroke="#000" stroke-width="1.9" />
<line x1="677.92" y1="536.20" x2="677.92" y2="540.70" stroke="#000" stroke-width="1.9" />
<line x1="677.92" y1="1014.40" x2="677.92" y2="1018.90" stroke="#000" stroke-width="1.9" />
<line x1="699.99" y1="536.20" x2="699.99" y2="540.70" stroke="#000" stroke-width="1.9" />
<line x1="699.99" y1="1014.40" x2="699.99" y2="1018.90" stroke="#000" stroke-width="1.9" />
<line x1="722.05" y1="536.20" x2="722.05" y2="544.70" stroke="#000" stroke-width="1.9" />
<line x1="722.05" y1="1014.40" x2="722.05" y2="1022.90" stroke="#000" stroke-width="1.9" />
<text transform="translate(722.05,1047.50) scale(1.0,1)" font-size="22" fill="#111" stroke="#111" stroke-width="0.55" text-anchor="middle" >2011</text>
<line x1="744.11" y1="536.20" x2="744.11" y2="540.70" stroke="#000" stroke-width="1.9" />
<line x1="744.11" y1="1014.40" x2="744.11" y2="1018.90" stroke="#000" stroke-width="1.9" />
<line x1="766.17" y1="536.20" x2="766.17" y2="540.70" stroke="#000" stroke-width="1.9" />
<line x1="766.17" y1="1014.40" x2="766.17" y2="1018.90" stroke="#000" stroke-width="1.9" />
<line x1="788.24" y1="536.20" x2="788.24" y2="540.70" stroke="#000" stroke-width="1.9" />
<line x1="788.24" y1="1014.40" x2="788.24" y2="1018.90" stroke="#000" stroke-width="1.9" />
<line x1="810.30" y1="536.20" x2="810.30" y2="544.70" stroke="#000" stroke-width="1.9" />
<line x1="810.30" y1="1014.40" x2="810.30" y2="1022.90" stroke="#000" stroke-width="1.9" />
<text transform="translate(810.30,1047.50) scale(1.0,1)" font-size="22" fill="#111" stroke="#111" stroke-width="0.55" text-anchor="middle" >2012</text>
<line x1="832.36" y1="536.20" x2="832.36" y2="540.70" stroke="#000" stroke-width="1.9" />
<line x1="832.36" y1="1014.40" x2="832.36" y2="1018.90" stroke="#000" stroke-width="1.9" />
<line x1="854.42" y1="536.20" x2="854.42" y2="540.70" stroke="#000" stroke-width="1.9" />
<line x1="854.42" y1="1014.40" x2="854.42" y2="1018.90" stroke="#000" stroke-width="1.9" />
<line x1="876.49" y1="536.20" x2="876.49" y2="540.70" stroke="#000" stroke-width="1.9" />
<line x1="876.49" y1="1014.40" x2="876.49" y2="1018.90" stroke="#000" stroke-width="1.9" />
<line x1="898.55" y1="536.20" x2="898.55" y2="544.70" stroke="#000" stroke-width="1.9" />
<line x1="898.55" y1="1014.40" x2="898.55" y2="1022.90" stroke="#000" stroke-width="1.9" />
<text transform="translate(898.55,1047.50) scale(1.0,1)" font-size="22" fill="#111" stroke="#111" stroke-width="0.55" text-anchor="middle" >2013</text>
<line x1="920.61" y1="536.20" x2="920.61" y2="540.70" stroke="#000" stroke-width="1.9" />
<line x1="920.61" y1="1014.40" x2="920.61" y2="1018.90" stroke="#000" stroke-width="1.9" />
<line x1="942.67" y1="536.20" x2="942.67" y2="540.70" stroke="#000" stroke-width="1.9" />
<line x1="942.67" y1="1014.40" x2="942.67" y2="1018.90" stroke="#000" stroke-width="1.9" />
<line x1="964.74" y1="536.20" x2="964.74" y2="540.70" stroke="#000" stroke-width="1.9" />
<line x1="964.74" y1="1014.40" x2="964.74" y2="1018.90" stroke="#000" stroke-width="1.9" />
<line x1="986.80" y1="536.20" x2="986.80" y2="544.70" stroke="#000" stroke-width="1.9" />
<line x1="986.80" y1="1014.40" x2="986.80" y2="1022.90" stroke="#000" stroke-width="1.9" />
<text transform="translate(986.80,1047.50) scale(1.0,1)" font-size="22" fill="#111" stroke="#111" stroke-width="0.55" text-anchor="middle" >2014</text>
<line x1="1008.86" y1="536.20" x2="1008.86" y2="540.70" stroke="#000" stroke-width="1.9" />
<line x1="1008.86" y1="1014.40" x2="1008.86" y2="1018.90" stroke="#000" stroke-width="1.9" />
<line x1="1030.92" y1="536.20" x2="1030.92" y2="540.70" stroke="#000" stroke-width="1.9" />
<line x1="1030.92" y1="1014.40" x2="1030.92" y2="1018.90" stroke="#000" stroke-width="1.9" />
<line x1="1052.99" y1="536.20" x2="1052.99" y2="540.70" stroke="#000" stroke-width="1.9" />
<line x1="1052.99" y1="1014.40" x2="1052.99" y2="1018.90" stroke="#000" stroke-width="1.9" />
<line x1="1075.05" y1="536.20" x2="1075.05" y2="544.70" stroke="#000" stroke-width="1.9" />
<line x1="1075.05" y1="1014.40" x2="1075.05" y2="1022.90" stroke="#000" stroke-width="1.9" />
<text transform="translate(1075.05,1047.50) scale(1.0,1)" font-size="22" fill="#111" stroke="#111" stroke-width="0.55" text-anchor="middle" >2015</text>
<line x1="1097.11" y1="536.20" x2="1097.11" y2="540.70" stroke="#000" stroke-width="1.9" />
<line x1="1097.11" y1="1014.40" x2="1097.11" y2="1018.90" stroke="#000" stroke-width="1.9" />
<line x1="1119.17" y1="536.20" x2="1119.17" y2="540.70" stroke="#000" stroke-width="1.9" />
<line x1="1119.17" y1="1014.40" x2="1119.17" y2="1018.90" stroke="#000" stroke-width="1.9" />
<line x1="1141.24" y1="536.20" x2="1141.24" y2="540.70" stroke="#000" stroke-width="1.9" />
<line x1="1141.24" y1="1014.40" x2="1141.24" y2="1018.90" stroke="#000" stroke-width="1.9" />
<line x1="1163.30" y1="536.20" x2="1163.30" y2="544.70" stroke="#000" stroke-width="1.9" />
<line x1="1163.30" y1="1014.40" x2="1163.30" y2="1022.90" stroke="#000" stroke-width="1.9" />
<text transform="translate(1163.30,1047.50) scale(1.0,1)" font-size="22" fill="#111" stroke="#111" stroke-width="0.55" text-anchor="middle" >2016</text>
<line x1="1185.36" y1="536.20" x2="1185.36" y2="540.70" stroke="#000" stroke-width="1.9" />
<line x1="1185.36" y1="1014.40" x2="1185.36" y2="1018.90" stroke="#000" stroke-width="1.9" />
<line x1="1207.42" y1="536.20" x2="1207.42" y2="540.70" stroke="#000" stroke-width="1.9" />
<line x1="1207.42" y1="1014.40" x2="1207.42" y2="1018.90" stroke="#000" stroke-width="1.9" />
<line x1="1229.49" y1="536.20" x2="1229.49" y2="540.70" stroke="#000" stroke-width="1.9" />
<line x1="1229.49" y1="1014.40" x2="1229.49" y2="1018.90" stroke="#000" stroke-width="1.9" />
<line x1="1251.55" y1="536.20" x2="1251.55" y2="544.70" stroke="#000" stroke-width="1.9" />
<line x1="1251.55" y1="1014.40" x2="1251.55" y2="1022.90" stroke="#000" stroke-width="1.9" />
<text transform="translate(1251.55,1047.50) scale(1.0,1)" font-size="22" fill="#111" stroke="#111" stroke-width="0.55" text-anchor="middle" >2017</text>
<line x1="1273.61" y1="536.20" x2="1273.61" y2="540.70" stroke="#000" stroke-width="1.9" />
<line x1="1273.61" y1="1014.40" x2="1273.61" y2="1018.90" stroke="#000" stroke-width="1.9" />
<line x1="1295.67" y1="536.20" x2="1295.67" y2="540.70" stroke="#000" stroke-width="1.9" />
<line x1="1295.67" y1="1014.40" x2="1295.67" y2="1018.90" stroke="#000" stroke-width="1.9" />
<line x1="1317.74" y1="536.20" x2="1317.74" y2="540.70" stroke="#000" stroke-width="1.9" />
<line x1="1317.74" y1="1014.40" x2="1317.74" y2="1018.90" stroke="#000" stroke-width="1.9" />
<line x1="1339.80" y1="536.20" x2="1339.80" y2="544.70" stroke="#000" stroke-width="1.9" />
<line x1="1339.80" y1="1014.40" x2="1339.80" y2="1022.90" stroke="#000" stroke-width="1.9" />
<text transform="translate(1339.80,1047.50) scale(1.0,1)" font-size="22" fill="#111" stroke="#111" stroke-width="0.55" text-anchor="middle" >2018</text>
<line x1="95.80" y1="1014.40" x2="104.30" y2="1014.40" stroke="#000" stroke-width="1.9" />
<line x1="1339.80" y1="1014.40" x2="1348.80" y2="1014.40" stroke="#000" stroke-width="1.9" />
<text transform="translate(86.80,1022.30) scale(1.0,1)" font-size="22" fill="#111" stroke="#111" stroke-width="0.55" text-anchor="end" letter-spacing="-0.4">−90</text>
<line x1="99.30" y1="989.44" x2="104.30" y2="989.44" stroke="#000" stroke-width="1.9" />
<line x1="1339.80" y1="989.44" x2="1344.80" y2="989.44" stroke="#000" stroke-width="1.9" />
<line x1="99.30" y1="964.49" x2="104.30" y2="964.49" stroke="#000" stroke-width="1.9" />
<line x1="1339.80" y1="964.49" x2="1344.80" y2="964.49" stroke="#000" stroke-width="1.9" />
<line x1="95.80" y1="939.53" x2="104.30" y2="939.53" stroke="#000" stroke-width="1.9" />
<line x1="1339.80" y1="939.53" x2="1348.80" y2="939.53" stroke="#000" stroke-width="1.9" />
<text transform="translate(86.80,947.43) scale(1.0,1)" font-size="22" fill="#111" stroke="#111" stroke-width="0.55" text-anchor="end" letter-spacing="-0.4">−60</text>
<line x1="99.30" y1="914.58" x2="104.30" y2="914.58" stroke="#000" stroke-width="1.9" />
<line x1="1339.80" y1="914.58" x2="1344.80" y2="914.58" stroke="#000" stroke-width="1.9" />
<line x1="99.30" y1="889.62" x2="104.30" y2="889.62" stroke="#000" stroke-width="1.9" />
<line x1="1339.80" y1="889.62" x2="1344.80" y2="889.62" stroke="#000" stroke-width="1.9" />
<line x1="95.80" y1="864.67" x2="104.30" y2="864.67" stroke="#000" stroke-width="1.9" />
<line x1="1339.80" y1="864.67" x2="1348.80" y2="864.67" stroke="#000" stroke-width="1.9" />
<text transform="translate(86.80,872.57) scale(1.0,1)" font-size="22" fill="#111" stroke="#111" stroke-width="0.55" text-anchor="end" letter-spacing="-0.4">−30</text>
<line x1="99.30" y1="839.71" x2="104.30" y2="839.71" stroke="#000" stroke-width="1.9" />
<line x1="1339.80" y1="839.71" x2="1344.80" y2="839.71" stroke="#000" stroke-width="1.9" />
<line x1="99.30" y1="814.76" x2="104.30" y2="814.76" stroke="#000" stroke-width="1.9" />
<line x1="1339.80" y1="814.76" x2="1344.80" y2="814.76" stroke="#000" stroke-width="1.9" />
<line x1="95.80" y1="789.80" x2="104.30" y2="789.80" stroke="#000" stroke-width="1.9" />
<line x1="1339.80" y1="789.80" x2="1348.80" y2="789.80" stroke="#000" stroke-width="1.9" />
<text transform="translate(86.80,797.70) scale(1.0,1)" font-size="22" fill="#111" stroke="#111" stroke-width="0.55" text-anchor="end" letter-spacing="-0.4">0</text>
<line x1="99.30" y1="764.84" x2="104.30" y2="764.84" stroke="#000" stroke-width="1.9" />
<line x1="1339.80" y1="764.84" x2="1344.80" y2="764.84" stroke="#000" stroke-width="1.9" />
<line x1="99.30" y1="739.89" x2="104.30" y2="739.89" stroke="#000" stroke-width="1.9" />
<line x1="1339.80" y1="739.89" x2="1344.80" y2="739.89" stroke="#000" stroke-width="1.9" />
<line x1="95.80" y1="714.93" x2="104.30" y2="714.93" stroke="#000" stroke-width="1.9" />
<line x1="1339.80" y1="714.93" x2="1348.80" y2="714.93" stroke="#000" stroke-width="1.9" />
<text transform="translate(86.80,722.83) scale(1.0,1)" font-size="22" fill="#111" stroke="#111" stroke-width="0.55" text-anchor="end" letter-spacing="-0.4">30</text>
<line x1="99.30" y1="689.98" x2="104.30" y2="689.98" stroke="#000" stroke-width="1.9" />
<line x1="1339.80" y1="689.98" x2="1344.80" y2="689.98" stroke="#000" stroke-width="1.9" />
<line x1="99.30" y1="665.02" x2="104.30" y2="665.02" stroke="#000" stroke-width="1.9" />
<line x1="1339.80" y1="665.02" x2="1344.80" y2="665.02" stroke="#000" stroke-width="1.9" />
<line x1="95.80" y1="640.07" x2="104.30" y2="640.07" stroke="#000" stroke-width="1.9" />
<line x1="1339.80" y1="640.07" x2="1348.80" y2="640.07" stroke="#000" stroke-width="1.9" />
<text transform="translate(86.80,647.97) scale(1.0,1)" font-size="22" fill="#111" stroke="#111" stroke-width="0.55" text-anchor="end" letter-spacing="-0.4">60</text>
<line x1="99.30" y1="615.11" x2="104.30" y2="615.11" stroke="#000" stroke-width="1.9" />
<line x1="1339.80" y1="615.11" x2="1344.80" y2="615.11" stroke="#000" stroke-width="1.9" />
<line x1="99.30" y1="590.16" x2="104.30" y2="590.16" stroke="#000" stroke-width="1.9" />
<line x1="1339.80" y1="590.16" x2="1344.80" y2="590.16" stroke="#000" stroke-width="1.9" />
<line x1="95.80" y1="565.20" x2="104.30" y2="565.20" stroke="#000" stroke-width="1.9" />
<line x1="1339.80" y1="565.20" x2="1348.80" y2="565.20" stroke="#000" stroke-width="1.9" />
<text transform="translate(86.80,573.10) scale(1.0,1)" font-size="22" fill="#111" stroke="#111" stroke-width="0.55" text-anchor="end" letter-spacing="-0.4">90</text>
<text transform="translate(709.00,41.00) scale(1.0,1)" font-size="27" fill="#111" stroke="#111" stroke-width="0.55" text-anchor="start" >L<tspan font-size="21" dy="6">s</tspan></text>
<text transform="translate(722.00,1088.40) scale(1.023,1)" font-size="28" fill="#111" stroke="#111" stroke-width="0.25" text-anchor="middle" >Calendar Year</text>
<text transform="translate(28.6,311.5) rotate(-90) scale(0.935,1)" font-size="30" fill="#111" stroke="#111" stroke-width="0.5" text-anchor="middle">Sub−Solar Latitude (°N)</text>
<text transform="translate(28.6,791) rotate(-90) scale(0.935,1)" font-size="30" fill="#111" stroke="#111" stroke-width="0.5" text-anchor="middle">Latitude (°N)</text>
<text transform="translate(1438.5,311) rotate(-90) scale(0.935,1)" font-size="30" fill="#97999e" stroke="#97999e" stroke-width="0.3" text-anchor="middle">Sub−Spacecraft Latitude (°N)</text>
<text transform="translate(110.50,118.50) scale(1.0,1)" font-size="24" fill="#2a2a2a" stroke="#2a2a2a" stroke-width="0.25" text-anchor="start" >(a)</text>
<text transform="translate(110.50,596.50) scale(1.0,1)" font-size="24" fill="#2a2a2a" stroke="#2a2a2a" stroke-width="0.25" text-anchor="start" >(b)</text>
<text transform="translate(104.00,1137.00) scale(1.0,1)" font-size="24" fill="#2a2a2a" stroke="#2a2a2a" stroke-width="0.25" text-anchor="start" >(c)</text>
<text transform="translate(553.00,1137.00) scale(1.0,1)" font-size="24" fill="#2a2a2a" stroke="#2a2a2a" stroke-width="0.25" text-anchor="start" >(d)</text>
<text transform="translate(1002.00,1137.00) scale(1.0,1)" font-size="24" fill="#2a2a2a" stroke="#2a2a2a" stroke-width="0.25" text-anchor="start" >(e)</text>
<polyline fill="none" stroke="#666" stroke-width="1.3" stroke-dasharray="7 4" points="167,150 147.5,172"/>
<rect x="167" y="136.5" width="49.5" height="26.5" rx="5" ry="5" fill="#fff" fill-opacity="0.85" stroke="#555" stroke-width="1.3" stroke-dasharray="7 4"/>
<text transform="translate(170.00,158.50) scale(1.0,1)" font-size="25" fill="#111" stroke="#111" stroke-width="0.55" text-anchor="start" >SOI</text>
<polyline fill="none" stroke="#666" stroke-width="1.3" stroke-dasharray="7 4" points="618,152 598.5,172"/>
<rect x="618" y="136.5" width="98.5" height="30.5" rx="5" ry="5" fill="#fff" fill-opacity="0.85" stroke="#555" stroke-width="1.3" stroke-dasharray="7 4"/>
<text transform="translate(622.00,158.80) scale(1.0,1)" font-size="25" fill="#111" stroke="#111" stroke-width="0.55" text-anchor="start" >Equinox</text>
<polyline fill="none" stroke="#666" stroke-width="1.3" stroke-dasharray="7 4" points="1200,150 1220,154 1286.5,172"/>
<rect x="1105" y="136.5" width="95" height="26.5" rx="5" ry="5" fill="#fff" fill-opacity="0.85" stroke="#555" stroke-width="1.3" stroke-dasharray="7 4"/>
<text transform="translate(1109.00,158.50) scale(1.0,1)" font-size="25" fill="#111" stroke="#111" stroke-width="0.55" text-anchor="start" >Solstice</text>
<polyline fill="none" stroke="#666" stroke-width="1.3" stroke-dasharray="7 4" points="1232.5,517 1317,508"/>
<rect x="1172" y="504" width="60.5" height="27" rx="5" ry="5" fill="#fff" fill-opacity="0.85" stroke="#555" stroke-width="1.3" stroke-dasharray="7 4"/>
<text transform="translate(1177.00,526.50) scale(1.0,1)" font-size="25" fill="#111" stroke="#111" stroke-width="0.55" text-anchor="start" >EoM</text>
<defs>
<pattern id="pg" width="5.2" height="5.2" patternUnits="userSpaceOnUse" patternTransform="rotate(12)"><rect width="5.2" height="5.2" fill="#d1d1d4"/><rect x="1.1" y="1.1" width="3" height="3" fill="#f6f6f8"/></pattern>
<pattern id="pg2" width="4.6" height="4.6" patternUnits="userSpaceOnUse"><rect width="4.6" height="4.6" fill="#d0d0d3"/><rect x="1.2" y="1.2" width="2" height="2" fill="#e6e6e9"/></pattern>
<pattern id="pb" width="5.6" height="5.6" patternUnits="userSpaceOnUse" patternTransform="rotate(12)"><rect width="5.6" height="5.6" fill="#5b62b3"/><rect x="1.6" y="1.6" width="2" height="2" fill="#c9ccf0"/></pattern>
<pattern id="pb2" width="7" height="7" patternUnits="userSpaceOnUse"><rect width="7" height="7" fill="#5b62b3"/><rect x="2" y="2" width="1.6" height="1.6" fill="#a9adde"/></pattern>
</defs>
<clipPath id="clipc"><circle cx="272.5" cy="1294.3" r="168.5"/></clipPath>
<clipPath id="clipd"><circle cx="722.0" cy="1294.3" r="168.5"/></clipPath>
<clipPath id="clipe"><circle cx="1172.0" cy="1294.3" r="168.5"/></clipPath>
<g clip-path="url(#clipc)">
<polygon points="117.0,1272.3 118.4,1260.9 124.1,1243.8 132.6,1226.4 144.3,1200.5 157.4,1182.6 180.5,1161.8 211.8,1145.0 245.4,1137.3 290.1,1134.7 316.3,1137.8 344.8,1152.7 373.3,1172.6 401.7,1209.6 418.8,1249.5 427.4,1272.3 427.4,1317.8 413.1,1363.4 396.1,1386.2 373.3,1411.8 344.8,1437.4 316.3,1447.4 276.4,1451.7 245.1,1446.0 219.5,1440.3 196.7,1426.1 173.9,1403.3 154.0,1374.8 134.0,1334.9 117.0,1289.4" fill="url(#pg)"/>
<polygon points="179.6,1175.4 213.8,1147.0 230.9,1184.0 253.7,1249.5 219.5,1252.3 202.4,1209.6" fill="#d2d2d5" opacity="0.75"/>
<polygon points="350.5,1175.4 373.3,1172.6 390.4,1232.4 410.3,1306.4 396.1,1346.3 379.0,1411.8 356.2,1411.8 353.3,1346.3 339.1,1289.4 361.9,1232.4" fill="#d2d2d5" opacity="0.75"/>
<polygon points="117.0,1272.3 145.4,1272.3 179.6,1334.9 202.4,1374.8 213.8,1431.7 196.7,1417.5 154.0,1363.4" fill="#d2d2d5" opacity="0.75"/>
<polygon points="215.2,1252.3 245.1,1252.3 246.5,1235.2 259.4,1226.7 276.4,1222.4 296.4,1229.5 302.1,1249.5 316.3,1260.9 322.0,1252.3 333.4,1253.8 334.8,1275.1 330.6,1289.4 329.1,1317.8 327.7,1346.3 330.6,1374.8 330.6,1411.8 326.3,1431.7 310.6,1443.1 276.4,1448.8 253.7,1444.6 228.0,1437.4 219.5,1411.8 216.6,1374.8 215.2,1346.3 212.4,1289.4 213.8,1260.9" fill="url(#pb)" stroke="#cfd1ee" stroke-width="2.5" stroke-linejoin="round"/>
<polygon points="282.1,1272.3 327.7,1266.6 329.1,1374.8 302.1,1377.6 287.8,1317.8" fill="#5b62b3" opacity="0.75"/>
<polygon points="219.5,1384.8 259.4,1390.5 287.8,1390.5 329.1,1383.3 330.6,1406.1 302.1,1414.7 270.7,1417.5 242.3,1414.7 219.5,1407.5" fill="#f25860"/>
<line x1="279.3" y1="1209.6" x2="213.8" y2="1144.1" fill="none" stroke="#666" stroke-opacity="0.7" stroke-width="0.9" stroke-dasharray="1.2 4.2"/>
<line x1="279.3" y1="1209.6" x2="287.8" y2="1132.7" fill="none" stroke="#666" stroke-opacity="0.7" stroke-width="0.9" stroke-dasharray="1.2 4.2"/>
<line x1="279.3" y1="1209.6" x2="361.9" y2="1161.2" fill="none" stroke="#666" stroke-opacity="0.7" stroke-width="0.9" stroke-dasharray="1.2 4.2"/>
<line x1="279.3" y1="1209.6" x2="418.8" y2="1221.0" fill="none" stroke="#666" stroke-opacity="0.7" stroke-width="0.9" stroke-dasharray="1.2 4.2"/>
<line x1="279.3" y1="1209.6" x2="125.5" y2="1266.6" fill="none" stroke="#666" stroke-opacity="0.7" stroke-width="0.9" stroke-dasharray="1.2 4.2"/>
<line x1="279.3" y1="1209.6" x2="154.0" y2="1189.7" fill="none" stroke="#666" stroke-opacity="0.7" stroke-width="0.9" stroke-dasharray="1.2 4.2"/>
<line x1="279.3" y1="1209.6" x2="344.8" y2="1397.6" fill="none" stroke="#666" stroke-opacity="0.7" stroke-width="0.9" stroke-dasharray="1.2 4.2"/>
<line x1="279.3" y1="1209.6" x2="416.0" y2="1374.8" fill="none" stroke="#666" stroke-opacity="0.7" stroke-width="0.9" stroke-dasharray="1.2 4.2"/>
<line x1="279.3" y1="1209.6" x2="188.2" y2="1389.0" fill="none" stroke="#666" stroke-opacity="0.7" stroke-width="0.9" stroke-dasharray="1.2 4.2"/>
<line x1="279.3" y1="1209.6" x2="125.5" y2="1340.6" fill="none" stroke="#666" stroke-opacity="0.7" stroke-width="0.9" stroke-dasharray="1.2 4.2"/>
<ellipse cx="279.3" cy="1221.6" rx="62" ry="56" fill="none" stroke="#666" stroke-opacity="0.7" stroke-width="0.9" stroke-dasharray="1.2 4.2"/>
<ellipse cx="279.3" cy="1239.6" rx="122" ry="112" fill="none" stroke="#666" stroke-opacity="0.7" stroke-width="0.9" stroke-dasharray="1.2 4.2"/>
</g>
<circle cx="272.5" cy="1294.3" r="169.0" fill="none" stroke="#111" stroke-width="2"/>
<ellipse cx="272.5" cy="1295.55" rx="167.7" ry="163.7" fill="none" stroke="#111" stroke-width="1.5"/>
<line x1="210.9" y1="1139.0" x2="215.2" y2="1145.5" stroke="#111" stroke-width="1.4"/>
<line x1="287.8" y1="1126.5" x2="289.3" y2="1135.6" stroke="#111" stroke-width="1.4"/>
<line x1="366.1" y1="1154.9" x2="359.0" y2="1162.6" stroke="#111" stroke-width="1.4"/>
<line x1="424.5" y1="1221.0" x2="406.0" y2="1218.7" stroke="#111" stroke-width="1.4"/>
<line x1="142.6" y1="1188.3" x2="152.6" y2="1190.2" stroke="#111" stroke-width="1.4"/>
<line x1="107.0" y1="1268.8" x2="121.2" y2="1258.0" stroke="#111" stroke-width="1.4"/>
<line x1="126.1" y1="1340.6" x2="118.4" y2="1354.9" stroke="#111" stroke-width="1.4"/>
<line x1="430.2" y1="1299.3" x2="440.2" y2="1313.6" stroke="#111" stroke-width="1.4"/>
<line x1="406.0" y1="1396.1" x2="400.3" y2="1380.5" stroke="#111" stroke-width="1.4"/>
<g clip-path="url(#clipc)">
<text transform="translate(127.78,1263.09) scale(0.93,1)" font-size="19" fill="#1a1a1a" stroke="#1a1a1a" stroke-width="0.5" text-anchor="middle" >30</text>
<text transform="translate(188.72,1257.40) scale(0.93,1)" font-size="19" fill="#1a1a1a" stroke="#1a1a1a" stroke-width="0.5" text-anchor="middle" >60</text>
<text transform="translate(356.18,1275.34) scale(0.93,1)" font-size="19" fill="#1a1a1a" stroke="#1a1a1a" stroke-width="0.5" text-anchor="middle" >60</text>
<text transform="translate(417.41,1295.84) scale(0.93,1)" font-size="19" fill="#1a1a1a" stroke="#1a1a1a" stroke-width="0.5" text-anchor="middle" >30</text>
<text transform="translate(126.93,1365.05) scale(0.93,1)" font-size="19" fill="#1a1a1a" stroke="#1a1a1a" stroke-width="0.5" text-anchor="middle" >60</text>
<text transform="translate(179.04,1430.55) scale(0.93,1)" font-size="19" fill="#1a1a1a" stroke="#1a1a1a" stroke-width="0.5" text-anchor="middle" >60</text>
<text transform="translate(253.66,1460.45) scale(0.93,1)" font-size="19" fill="#1a1a1a" stroke="#1a1a1a" stroke-width="0.5" text-anchor="middle" >60</text>
<text transform="translate(340.52,1446.78) scale(0.93,1)" font-size="19" fill="#1a1a1a" stroke="#1a1a1a" stroke-width="0.5" text-anchor="middle" >60</text>
<text transform="translate(410.01,1396.37) scale(0.93,1)" font-size="19" fill="#1a1a1a" stroke="#1a1a1a" stroke-width="0.5" text-anchor="middle" >30</text>
</g>
<g clip-path="url(#clipd)">
<polygon points="881.7,1293.9 880.8,1310.5 878.2,1326.8 873.8,1342.8 867.9,1358.3 860.3,1373.1 851.2,1387.0 840.7,1399.9 828.9,1411.6 815.9,1422.0 801.9,1431.0 787.0,1438.6 771.5,1444.5 755.3,1448.8 738.8,1451.4 722.2,1452.3 705.5,1451.4 689.0,1448.8 672.9,1444.5 657.3,1438.6 642.4,1431.0 628.4,1422.0 615.5,1411.6 603.6,1399.9 593.1,1387.0 584.1,1373.1 576.5,1358.3 570.5,1342.8 566.2,1326.8 563.6,1310.5 562.7,1293.9 563.6,1277.4 566.2,1261.0 570.5,1245.0 576.5,1229.5 584.1,1214.7 593.1,1200.8 603.6,1188.0 615.5,1176.2 628.4,1165.8 642.4,1156.8 657.3,1149.3 672.9,1143.3 689.0,1139.0 705.5,1136.4 722.2,1135.6 738.8,1136.4 755.3,1139.0 771.5,1143.3 787.0,1149.3 801.9,1156.8 815.9,1165.8 828.9,1176.2 840.7,1188.0 851.2,1200.8 860.3,1214.7 867.9,1229.5 873.8,1245.0 878.2,1261.0 880.8,1277.4 881.7,1293.9" fill="url(#pg2)"/>
<polygon points="665.2,1147.0 680.9,1142.7 783.4,1142.7 784.8,1175.4 786.2,1226.7 783.4,1289.4 780.6,1346.3 779.1,1403.3 777.7,1431.7 766.3,1438.9 749.2,1443.1 686.6,1443.1 666.6,1436.0 659.5,1426.1 659.5,1346.3 660.9,1289.4 663.8,1232.4 665.2,1175.4" fill="url(#pb2)" stroke="#cfd1ee" stroke-width="2.5" stroke-linejoin="round"/>
<polygon points="663.8,1185.4 784.8,1185.4 785.7,1213.9 663.8,1213.9" fill="#f25860"/>
</g>
<circle cx="722.0" cy="1294.3" r="169.0" fill="none" stroke="#111" stroke-width="2"/>
<path d="M 722.0 1125.3 C 627.0 1127.3 559.0 1214.3 559.0 1294.3 C 559.0 1374.3 627.0 1461.3 722.0 1463.3" fill="none" stroke="#111" stroke-width="1.5"/>
<path d="M 643.0 1145.3 Q 692.0 1134.3 714.0 1126.3" fill="none" stroke="#111" stroke-width="1.3"/>
<line x1="705.0" y1="1141.3" x2="718.0" y2="1126.3" stroke="#111" stroke-width="1.3"/>
<line x1="576.0" y1="1211.3" x2="588.0" y2="1211.3" stroke="#111" stroke-width="1.4"/>
<path d="M 643.0 1443.3 Q 692.0 1454.3 714.0 1462.3" fill="none" stroke="#111" stroke-width="1.3"/>
<line x1="705.0" y1="1447.3" x2="718.0" y2="1462.3" stroke="#111" stroke-width="1.3"/>
<line x1="576.0" y1="1377.3" x2="588.0" y2="1377.3" stroke="#111" stroke-width="1.4"/>
<path d="M 722.0 1125.3 C 817.0 1127.3 885.0 1214.3 885.0 1294.3 C 885.0 1374.3 817.0 1461.3 722.0 1463.3" fill="none" stroke="#111" stroke-width="1.5"/>
<path d="M 801.0 1145.3 Q 752.0 1134.3 730.0 1126.3" fill="none" stroke="#111" stroke-width="1.3"/>
<line x1="739.0" y1="1141.3" x2="726.0" y2="1126.3" stroke="#111" stroke-width="1.3"/>
<line x1="868.0" y1="1211.3" x2="856.0" y2="1211.3" stroke="#111" stroke-width="1.4"/>
<path d="M 801.0 1443.3 Q 752.0 1454.3 730.0 1462.3" fill="none" stroke="#111" stroke-width="1.3"/>
<line x1="739.0" y1="1447.3" x2="726.0" y2="1462.3" stroke="#111" stroke-width="1.3"/>
<line x1="868.0" y1="1377.3" x2="856.0" y2="1377.3" stroke="#111" stroke-width="1.4"/>
<g clip-path="url(#clipd)">
<text transform="translate(668.06,1152.88) scale(0.93,1)" font-size="19" fill="#1a1a1a" stroke="#1a1a1a" stroke-width="0.5" text-anchor="middle" >60</text>
<text transform="translate(626.76,1214.96) scale(0.93,1)" font-size="19" fill="#1a1a1a" stroke="#1a1a1a" stroke-width="0.5" text-anchor="middle" >30</text>
<text transform="translate(563.26,1299.54) scale(0.93,1)" font-size="19" fill="#1a1a1a" stroke="#1a1a1a" stroke-width="0.5" text-anchor="middle" >210</text>
<text transform="translate(613.09,1299.54) scale(0.93,1)" font-size="19" fill="#1a1a1a" stroke="#1a1a1a" stroke-width="0.5" text-anchor="middle" >180</text>
<text transform="translate(692.27,1299.54) scale(0.93,1)" font-size="19" fill="#1a1a1a" stroke="#1a1a1a" stroke-width="0.5" text-anchor="middle" >150</text>
<text transform="translate(778.27,1299.54) scale(0.93,1)" font-size="19" fill="#1a1a1a" stroke="#1a1a1a" stroke-width="0.5" text-anchor="middle" >120</text>
<text transform="translate(849.47,1299.54) scale(0.93,1)" font-size="19" fill="#1a1a1a" stroke="#1a1a1a" stroke-width="0.5" text-anchor="middle" >90</text>
<text transform="translate(887.06,1299.54) scale(0.93,1)" font-size="19" fill="#1a1a1a" stroke="#1a1a1a" stroke-width="0.5" text-anchor="middle" >60</text>
</g>
<g clip-path="url(#clipe)">
<polygon points="1119.5,1147.0 1079.6,1172.6 1045.4,1203.9 1025.5,1243.8 1014.1,1275.1 1015.5,1300.7 1019.8,1317.8 1031.2,1346.3 1045.4,1374.8 1079.6,1417.5 1119.5,1440.3 1176.4,1448.8 1233.4,1440.3 1244.8,1431.7 1279.0,1403.3 1296.1,1363.4 1321.7,1326.4 1327.4,1283.7 1321.7,1255.2 1310.3,1232.4 1273.3,1184.0 1233.4,1155.5 1176.4,1144.1" fill="#cfcfd2" stroke="#e4e4e8" stroke-width="3" stroke-linejoin="round"/>
<polygon points="1109.5,1161.2 1119.5,1155.5 1142.3,1144.1 1159.4,1141.3 1176.4,1147.0 1193.5,1144.1 1216.3,1152.7 1230.6,1164.0 1233.4,1203.9 1230.6,1260.9 1232.0,1317.8 1234.8,1374.8 1236.2,1417.5 1233.4,1434.6 1216.3,1443.1 1182.1,1446.0 1159.4,1448.8 1145.1,1444.6 1119.5,1434.6 1113.8,1403.3 1113.8,1346.3 1109.5,1317.8 1108.1,1260.9 1108.1,1203.9" fill="#5b62b3" stroke="#cfd1ee" stroke-width="2.5" stroke-linejoin="round"/>
<polygon points="1108.1,1266.6 1145.1,1265.1 1176.4,1272.3 1210.6,1268.0 1230.6,1265.1 1230.6,1300.7 1202.1,1306.4 1170.7,1305.0 1130.9,1305.0 1108.1,1300.7" fill="#f25860"/>
<polygon points="1169.3,1205.3 1187.8,1215.3 1180.7,1226.7 1163.6,1265.1 1146.5,1259.4 1159.4,1229.5 1163.6,1215.3" fill="#fff"/>
<line x1="1175.0" y1="1203.9" x2="1176.4" y2="1232.4" stroke="#222" stroke-width="1"/>
<line x1="1166.5" y1="1217.3" x2="1186.4" y2="1215.3" stroke="#222" stroke-width="1"/>
</g>
<circle cx="1172.0" cy="1294.3" r="169.0" fill="none" stroke="#111" stroke-width="2"/>
<ellipse cx="1172.0" cy="1294.3" rx="168.0" ry="157.0" fill="none" stroke="#111" stroke-width="1.4" transform="rotate(48 1172.0 1294.3)"/>
<ellipse cx="1172.0" cy="1294.3" rx="168.0" ry="157.0" fill="none" stroke="#111" stroke-width="1.4" transform="rotate(-48 1172.0 1294.3)"/>
<line x1="1167.9" y1="1126.5" x2="1171.3" y2="1142.7" stroke="#111" stroke-width="1.2"/>
<line x1="1177.0" y1="1447.4" x2="1175.0" y2="1463.1" stroke="#111" stroke-width="1.2"/>
<text transform="translate(1086.73,1179.36) scale(0.93,1)" font-size="19" fill="#1a1a1a" stroke="#1a1a1a" stroke-width="0.5" text-anchor="middle" >60</text>
<text transform="translate(1256.18,1175.66) scale(0.93,1)" font-size="19" fill="#1a1a1a" stroke="#1a1a1a" stroke-width="0.5" text-anchor="middle" >60</text>
<text transform="translate(1026.07,1232.62) scale(0.93,1)" font-size="19" fill="#1a1a1a" stroke="#1a1a1a" stroke-width="0.5" text-anchor="middle" >30</text>
<text transform="translate(1318.27,1227.49) scale(0.93,1)" font-size="19" fill="#1a1a1a" stroke="#1a1a1a" stroke-width="0.5" text-anchor="middle" >30</text>
<text transform="translate(1029.20,1348.53) scale(0.93,1)" font-size="19" fill="#1a1a1a" stroke="#1a1a1a" stroke-width="0.5" text-anchor="middle" >330</text>
<text transform="translate(1093.85,1381.56) scale(0.93,1)" font-size="19" fill="#1a1a1a" stroke="#1a1a1a" stroke-width="0.5" text-anchor="middle" >300</text>
<text transform="translate(1179.29,1391.25) scale(0.93,1)" font-size="19" fill="#262a6e" stroke="#262a6e" stroke-width="0.5" text-anchor="middle" >270</text>
<text transform="translate(1261.88,1377.86) scale(0.93,1)" font-size="19" fill="#1a1a1a" stroke="#1a1a1a" stroke-width="0.5" text-anchor="middle" >240</text>
<text transform="translate(1319.40,1343.12) scale(0.93,1)" font-size="19" fill="#1a1a1a" stroke="#1a1a1a" stroke-width="0.5" text-anchor="middle" >210</text>
</svg>
</body></html>
